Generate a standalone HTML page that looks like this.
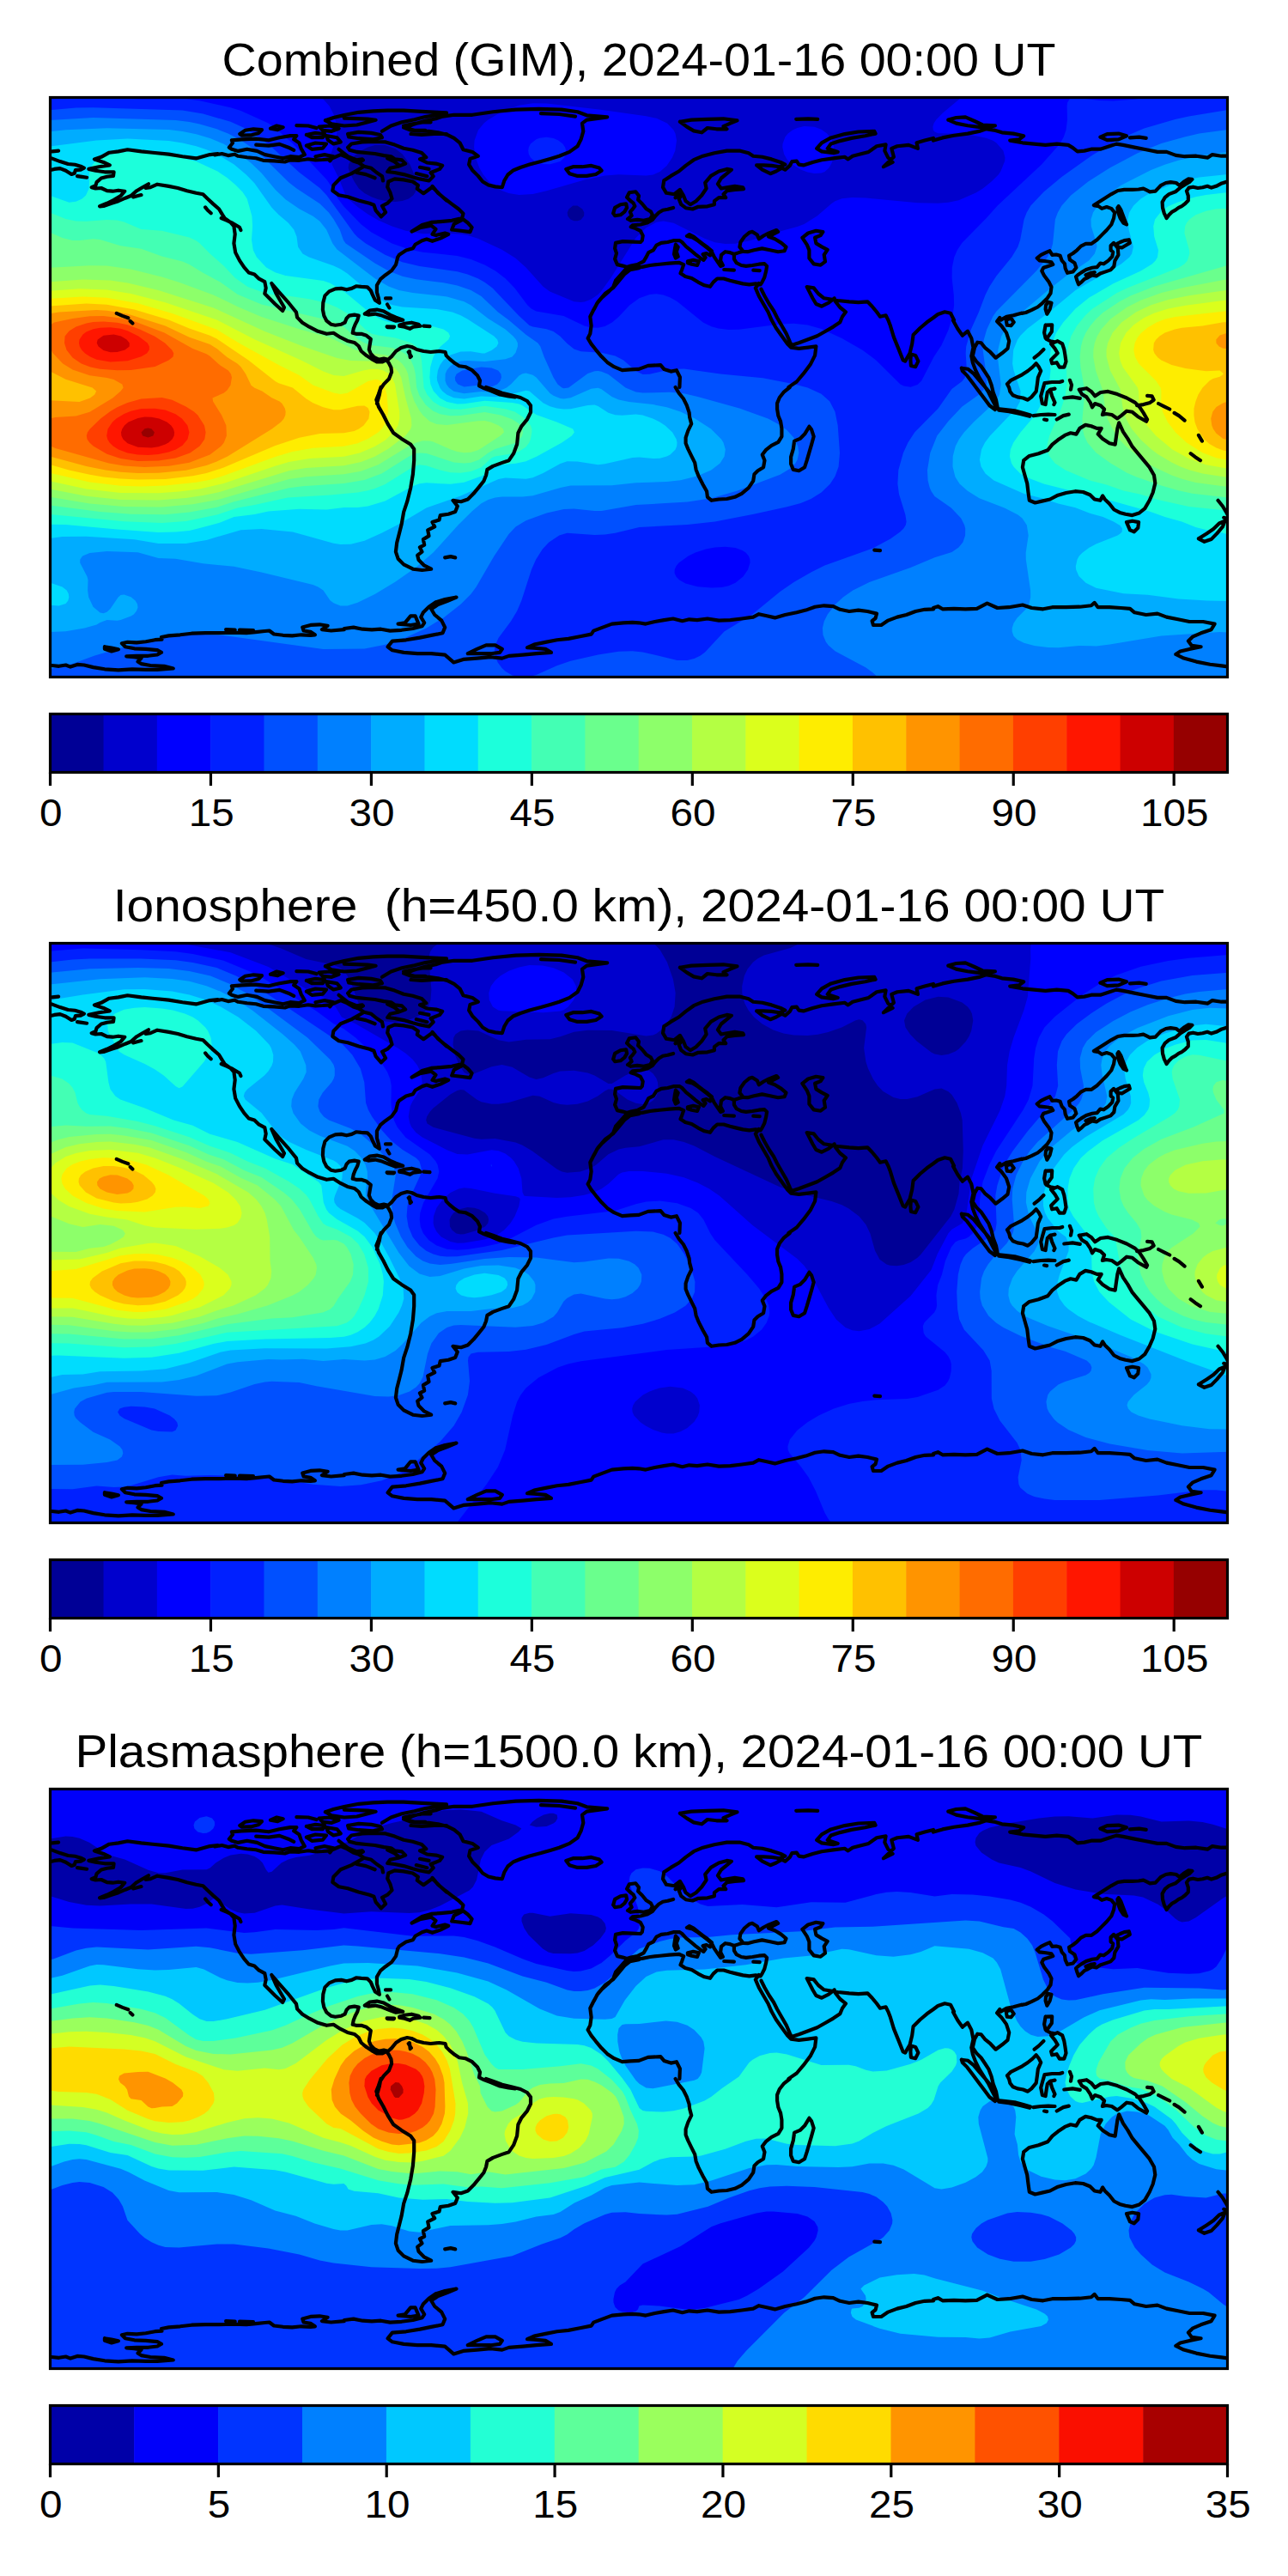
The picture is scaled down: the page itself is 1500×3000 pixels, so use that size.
<!DOCTYPE html>
<html><head><meta charset="utf-8"><title>GIM</title>
<style>html,body{margin:0;padding:0;background:#fff}svg{display:block}text{font-family:"Liberation Sans",sans-serif;fill:#000}</style></head>
<body>
<svg width="1500" height="3000" viewBox="0 0 1500 3000">
<defs><clipPath id="mc"><rect x="58.5" y="0" width="1371.0" height="675.0"/></clipPath>
<g id="coast" fill="none" stroke="#000" stroke-width="4.17" stroke-linejoin="round" stroke-linecap="round"><path d="M60.7,62.9 68.1,62.1M60.1,70.9 70.0,74.6 79.3,77.5 87.3,78.3 94.0,80.2 97.9,82.1 94.0,84.2 87.8,84.7 86.8,88.2 83.3,89.5 76.6,85.2 70.0,82.6 63.3,83.4 60.1,84.2M90.0,91.6 95.3,92.4 101.1,93.2M253.7,65.5 244.4,66.6 228.4,70.9 212.5,68.7 196.5,66.1 177.8,64.2 164.5,62.9 148.5,60.8 137.9,62.9 127.2,64.2 117.9,69.3 109.9,71.9 120.6,75.4 127.8,78.9 115.3,80.7 103.3,83.4 111.3,85.2 121.9,86.8 132.6,86.8 132.0,91.4 124.6,92.2 117.9,94.0 112.6,98.6 111.3,102.8 106.7,104.7 111.3,106.0 117.9,105.5 124.6,108.7 131.2,109.2 137.9,108.2 145.3,109.2 140.6,114.5 132.6,119.3 124.6,123.3 116.1,126.8 120.6,126.5 129.9,123.3 137.9,120.7 145.9,117.2 152.5,114.5 159.2,108.7 165.9,104.7 173.0,100.7 169.8,105.5 175.2,104.7 183.2,101.2 196.5,103.4 207.1,105.5 217.8,108.7 228.4,111.3 236.4,112.7 241.8,118.0 248.4,124.1 255.1,130.0 259.1,136.6 261.7,140.6 268.4,145.4 272.4,150.0 273.7,159.3 272.4,169.9 274.2,180.6 279.0,189.9 284.4,197.9 289.7,204.0 296.3,205.9 301.7,211.2 308.3,214.7 309.7,221.9 308.3,228.5 320.3,240.5 329.1,248.5 331.0,244.5 321.6,228.5 316.3,216.5 324.3,225.9 335.0,237.8 340.0,244.0M155.2,115.9 160.5,114.5 164.5,113.5M239.1,127.9 241.8,131.3 245.7,134.8M257.7,140.6 264.4,143.3 271.0,146.5 279.0,151.3 280.4,154.5M135.8,251.4 142.7,254.4 149.3,256.8M151.7,260.5 154.4,263.1M250.0,67.0 258.4,65.5 265.7,67.6 273.1,66.2 277.3,68.3 287.7,69.7 298.2,70.8 306.6,73.3 319.2,73.9 331.8,75.0 338.0,72.9 348.5,73.3 359.0,71.8 367.4,72.9 375.8,72.5 384.2,71.8 389.4,69.7 396.7,66.6 404.1,69.7 411.4,73.9 417.7,76.0 422.9,72.9M279.3,42.5 285.6,38.3 295.1,36.8 304.9,37.7 301.4,41.4 291.9,43.9 281.4,44.2 279.3,42.5M315.0,36.2 322.3,33.0 329.7,34.7 323.4,37.7 315.0,36.2M269.9,49.8 281.4,48.8 298.2,48.1 312.9,49.8 325.5,46.7 338.0,44.6 345.4,44.6 342.2,48.8 348.5,53.0 350.6,59.2 354.8,66.6 348.5,69.7 338.0,68.7 329.7,70.8 319.2,68.7 308.7,66.6 299.3,62.4 287.7,60.3 277.3,62.4 269.9,60.3 266.8,58.2 271.0,53.0 269.9,49.8M298.2,55.1 312.9,56.1 325.5,54.4 335.9,58.2 342.2,61.3M345.4,32.6 359.0,33.0 368.4,35.6M356.9,43.5 367.4,41.4 377.9,42.5 375.8,46.7 363.2,46.7 356.9,43.5M371.6,34.1 384.2,33.0 394.6,36.2 386.3,39.3 375.8,38.3 371.6,34.1M356.9,56.1 367.4,53.0 380.0,54.0 375.8,59.2 363.2,60.3 356.9,56.1M380.0,44.6 392.5,46.7 396.7,51.9 388.4,54.0 382.1,49.8 380.0,44.6M367.4,68.7 377.9,66.6 388.4,68.7 384.2,73.9M394.6,60.3 405.1,68.7 415.6,72.9 421.9,71.8M378.9,26.8 388.4,23.6 400.9,20.5 417.7,17.3 434.5,15.9 451.2,15.2 470.1,15.2 491.1,16.3 509.9,17.3 520.0,17.9M378.9,26.8 386.3,30.9 400.9,33.0 415.6,32.0 428.2,28.8 437.6,26.3 428.2,25.1 415.6,24.7 400.9,24.2M445.0,39.3 455.4,33.0 468.0,28.8 482.7,25.7 495.3,22.6 507.8,20.5 520.0,19.4M470.1,33.0 480.6,30.9 493.2,28.8 501.6,28.8M470.1,35.1 482.7,38.3 495.3,38.3M478.5,42.5 491.1,43.5 505.7,42.5 520.0,42.5M405.1,42.5 417.7,40.4 432.4,41.4 442.9,43.5 445.0,46.7 434.5,48.8 417.7,47.7 406.2,46.0 405.1,42.5M405.1,58.2 409.3,54.0 421.9,51.9 436.6,51.5 449.1,51.9 459.6,55.1 470.1,59.2 480.6,61.3 491.1,64.5 496.3,69.7 489.0,71.8 497.4,76.0 507.8,77.1 515.2,79.2 512.0,83.4 501.6,87.5 504.7,91.7 499.5,97.0 489.0,94.9 480.6,92.8 470.1,89.6 459.6,87.5 451.2,86.5 454.4,82.3 463.8,80.2 472.2,77.1 468.0,72.9 459.6,71.8 455.4,68.7 447.0,67.6 436.6,65.5 426.1,64.5 415.6,63.4 407.2,61.3 405.1,58.2M451.2,70.8 459.6,75.0 463.8,78.1M489.0,81.3 499.5,83.4M484.8,88.6 497.4,91.7M424.0,80.2 409.3,88.6 396.7,93.8 388.4,102.2 387.3,108.5 394.6,113.7 405.1,115.8 417.7,120.0 430.3,123.2 435.5,125.3 437.6,131.6 443.9,138.9 449.1,133.7 445.0,126.3 451.2,123.2 456.5,117.9 454.4,110.6 451.2,104.3 452.3,98.0 459.6,94.9 470.1,95.9 480.6,98.0 486.9,102.2 485.8,106.4 493.2,111.7 503.6,104.3 512.0,112.7 520.0,120.0M417.7,76.0 424.0,80.2 432.4,82.3 438.7,87.5 445.0,91.7 446.0,97.0M415.6,87.5 426.1,89.6 436.6,93.8M471.6,35.5 480.9,31.5 494.2,27.5 507.5,24.8 515.5,22.1 528.8,20.3 550.1,20.3 574.1,16.8 600.7,14.1 627.4,13.3 654.0,14.1 672.6,16.8 683.3,20.8 707.2,22.9 683.3,26.1 678.0,30.1 679.3,39.4 676.6,48.8 672.6,56.8 663.3,63.4 651.3,68.2 640.7,71.4 630.0,74.6 616.7,78.1 606.1,81.5 598.1,84.7 591.4,90.0 587.4,96.7 584.8,104.7 576.8,103.9 568.8,102.0 562.1,98.0 556.8,91.4 550.1,84.7 546.1,78.1 547.5,71.4 556.8,68.2 550.1,63.4 539.5,60.8 535.5,52.8 528.8,47.4 520.8,43.4 510.2,40.8 499.5,39.4 488.9,38.9 478.2,38.1 471.6,35.5M630.0,18.7 651.3,19.5 670.0,22.1M503.5,103.4 510.2,111.3 518.2,118.0 526.2,124.1 534.2,130.0 539.5,135.3 538.1,140.6 526.2,143.3 512.8,144.6 502.2,145.4 491.5,148.6 479.6,156.1 488.9,151.8 502.2,149.2 507.5,153.4 503.5,159.3 507.5,160.6 518.2,158.0 522.2,159.3 512.8,164.1 503.5,167.3 496.9,165.1 491.5,166.7 483.6,171.3 480.9,175.8 472.9,177.9 464.9,183.2 463.0,186.4M528.8,147.3 526.2,154.0 536.8,155.3 547.5,156.6 549.6,151.3 544.8,146.0 539.5,142.0 534.2,144.6 528.8,147.3M659.3,83.4 667.3,80.7 678.0,80.7 688.6,79.4 697.9,82.1 700.6,85.2 693.9,89.5 683.3,91.4 672.6,91.4 663.3,88.7 659.3,83.4M744.0,198.7 733.9,200.6 727.2,205.9 720.6,213.9 713.9,221.9 704.6,228.5 696.6,237.8 691.3,247.2 687.3,255.2 688.6,265.8 687.3,275.1 684.6,280.5 688.6,287.1 693.9,293.8 700.6,301.8 707.2,308.4 715.2,313.7 724.6,317.7 733.9,316.9 744.0,316.4M791.9,28.3 805.2,26.1 823.9,25.3 842.5,24.8 858.5,26.9 850.5,30.1 842.5,33.6 846.5,36.8 834.5,36.8 823.9,35.5 817.2,40.8 807.9,38.9 799.9,34.1 791.9,28.3M927.2,25.3 941.1,24.8 952.2,25.3M951.2,59.4 957.0,52.8 967.7,46.9 983.7,42.6 999.7,40.0 1018.3,39.4 1019.6,42.1 1007.6,44.8 991.7,47.4 978.3,50.6 967.7,54.1 963.7,59.4 975.7,63.4 970.4,64.7 957.0,62.9 951.2,59.4M773.3,96.7 781.3,91.4 790.6,86.0 798.6,79.4 807.9,72.7 818.6,68.2 831.9,64.7 846.5,62.1 861.2,62.1 871.8,64.7 877.2,68.2 887.8,69.3 898.5,71.9 909.1,75.4 914.4,78.1 907.8,80.7 898.5,79.4 889.1,78.9 881.1,78.9 887.8,84.2 897.1,88.7 903.8,86.0 910.4,82.1 914.4,84.2 919.8,79.4 922.4,74.6 927.8,74.1 930.4,78.1 935.7,78.9 946.4,75.4 957.0,72.7 970.4,70.9 983.7,69.3 987.7,71.9 993.0,68.2 1003.6,65.5 1011.6,63.4 1021.0,56.8 1031.6,54.9 1030.3,62.1 1034.3,70.1 1039.6,75.4 1028.9,80.7 1040.9,69.3 1038.3,59.4 1044.9,56.8 1058.2,55.4 1068.9,59.4 1067.6,52.8 1076.9,50.1 1087.0,47.4M773.3,96.7 772.0,104.7 776.0,111.3 785.3,112.7 791.9,107.4 795.9,114.0 798.6,120.7 803.9,124.7 810.6,120.7 817.2,114.0 822.6,106.0 821.2,99.4 827.9,91.4 837.2,86.0 846.5,83.4 851.9,84.2 846.5,88.7 839.9,94.0 835.9,100.7 839.9,106.0 846.5,104.7 855.8,103.4 865.2,104.7 866.0,106.6 855.8,107.4 846.5,108.7 842.5,112.7 845.2,116.7 837.2,116.7 831.9,120.7 831.9,124.7 823.9,126.8 813.2,127.3 806.6,130.0 798.6,128.7 793.3,124.7 790.6,118.0 794.1,114.0M786.6,116.7 790.6,112.7M934.4,163.3 941.1,158.0 950.4,155.3 958.4,156.6 955.7,160.6 949.1,163.3 950.4,169.9 957.0,173.9 963.7,177.4 959.7,183.2 961.0,191.2 955.7,195.2 947.7,193.9 942.4,187.2 942.4,177.9 939.7,171.3 934.4,163.3M883.8,216.5 879.8,221.9 883.8,231.2 889.1,240.5 894.5,249.8 898.5,259.1 903.8,268.5 910.4,277.8 917.1,287.1 921.1,291.1 930.4,292.4 941.1,291.1 950.4,289.8 949.1,300.4 943.7,311.1 935.7,321.7 927.8,331.0 918.4,337.4M886.5,223.2 890.5,231.2 895.8,240.5 901.1,248.5 905.1,256.5 910.4,265.8 915.8,275.1 919.8,284.4 921.9,288.4 930.4,285.8 941.1,281.8 951.7,277.8 961.0,272.5 970.4,267.1 978.3,261.8 981.0,255.2 985.0,249.8 978.3,244.5 973.0,237.8 971.7,233.8 965.0,239.2 957.0,243.2 950.4,240.5 946.4,233.8 942.4,225.9 939.7,220.5 947.7,221.9 953.0,228.5 959.7,233.8 969.0,235.2 975.7,236.5 989.0,237.8 999.7,238.6 1010.3,237.8 1015.6,243.2 1021.0,249.8 1025.0,255.2 1031.6,253.8 1034.3,259.1 1036.9,265.8 1040.9,279.1 1046.3,292.4 1051.6,305.8 1054.2,307.1 1059.6,297.8 1062.2,287.1 1063.6,276.5 1071.6,268.5 1079.5,261.8 1087.0,256.5M1060.9,299.1 1066.2,300.4 1069.4,307.1 1066.2,313.7 1060.9,312.4 1060.4,305.8 1060.9,299.1M744.0,316.4 754.7,312.4 769.3,311.6 773.3,316.4 781.3,319.1 787.9,317.7 791.9,325.7 791.4,337.4M1104.3,26.1 1113.6,23.5 1124.3,22.9 1134.9,27.5 1144.3,32.0 1158.9,32.8 1149.6,35.5 1137.6,34.1 1126.9,32.8 1113.6,30.1 1104.3,26.1M1087.0,50.1 1097.7,46.9 1111.0,44.2 1126.9,42.1 1140.3,39.4 1148.2,36.8 1157.6,38.1 1166.9,40.8 1180.2,42.1 1192.2,44.8 1186.9,48.8 1176.2,50.1 1190.9,52.8 1204.2,54.1 1217.5,55.4 1230.8,54.1 1244.1,55.4 1249.4,58.6 1254.8,62.9 1262.8,62.1 1270.8,60.2 1281.4,60.2 1292.1,56.8 1300.0,54.1 1308.0,55.4 1321.3,58.1 1334.7,60.8 1348.0,63.4 1358.6,63.4 1369.3,67.4 1379.9,68.7 1393.2,68.2 1406.6,70.1 1411.9,66.6 1422.5,68.2 1430.0,68.2M1281.4,46.1 1289.4,42.6 1302.7,42.1 1312.0,44.8 1302.7,48.8 1289.4,49.6 1281.4,46.1M1316.0,46.9 1326.7,46.1 1334.7,47.4M1189.5,251.2 1180.2,253.8 1172.2,255.2 1165.6,259.1 1164.2,257.3M1111.0,259.1 1107.0,251.2 1100.3,249.8 1092.3,252.5 1087.0,256.5M1171.7,259.1 1177.5,257.3 1180.7,261.8 1177.5,265.8 1172.8,265.3 1171.7,259.1M443.6,337.5 440.9,345.5 438.3,352.1 440.9,360.1 446.3,369.5 451.6,380.1 458.3,390.8 467.6,397.4 478.2,404.1 482.2,409.4 482.2,422.7 480.9,438.7 478.2,454.7 474.2,470.7 470.2,482.6 467.6,497.3 464.9,507.9 462.2,518.6 460.9,529.2 463.6,537.2 470.2,543.9 480.9,549.2 491.5,550.5 502.2,549.2 494.2,545.2 487.5,538.6 486.2,533.2 491.5,529.2 488.9,523.9 494.2,521.2 492.9,514.6 499.5,510.6 498.2,503.9 506.2,499.9 503.5,494.6 511.5,492.0 512.8,486.6 522.2,485.3 530.2,482.6 532.8,476.0 527.5,469.3 536.8,470.7 544.8,468.0 551.5,461.3 558.1,453.3 563.4,446.7 566.1,440.0 567.4,433.4 574.1,429.4 584.8,425.4 592.7,422.7 598.1,414.7 602.1,404.1 603.4,390.8 607.4,382.8 614.0,374.8 618.0,366.8 618.0,358.8 614.0,353.5 606.1,349.5 595.4,346.8 584.8,344.2 574.1,340.2 566.1,337.5M518.2,535.9 524.8,534.6 530.2,535.9M401.0,618.5 411.7,617.1 422.3,619.2 433.0,619.8 443.6,619.2 454.3,621.1 467.6,620.3 480.9,618.5 491.5,615.8 494.2,611.8 490.2,605.1 492.9,599.8 499.5,593.2 507.5,587.8 518.2,584.6 531.5,582.0 520.8,586.5 510.2,590.5 502.2,595.8 506.2,602.5 514.2,609.1 518.2,617.1 515.5,623.8 502.2,626.4 488.9,629.1 472.9,631.8 456.9,633.1 451.6,639.8 456.9,643.8 470.2,646.4 486.2,647.7 502.2,647.7 518.2,649.1 528.3,657.9 539.5,654.4 555.5,653.1 571.4,651.7 584.8,653.1 592.7,650.4 608.7,649.1 624.7,647.7 642.0,646.4 635.3,642.4 622.0,641.1 614.0,640.6 622.0,637.1 635.3,634.4 648.7,631.8 662.0,630.4 675.3,627.8 688.6,625.1 691.3,621.1 701.9,617.1 712.6,613.1 725.9,611.8 736.5,611.3 744.0,611.8M544.8,647.7 555.5,642.4 566.1,637.9 576.8,637.9 584.8,642.4 582.1,646.4 571.4,647.7 558.1,647.7 544.8,647.7M463.6,613.1 471.6,611.8 478.2,603.8 483.6,603.8 487.5,613.1 478.2,614.5 463.6,613.1M786.6,337.5 790.6,344.2 795.9,350.8 799.9,358.8 802.6,366.8 803.1,372.1 805.2,380.1 801.3,388.1 798.6,396.1 798.6,402.7 801.3,409.4 805.2,417.4 809.2,425.4 810.6,433.4 813.8,441.4 818.6,450.7 823.1,458.7 823.9,465.3 828.7,469.3 837.2,468.0 846.5,467.5 855.8,465.3 863.8,461.3 871.8,454.7 877.2,446.7 878.5,438.7 882.5,434.7 889.1,430.7 890.5,422.7 887.8,416.1 891.8,410.7 898.5,405.4 906.4,401.4 910.4,394.8 910.4,385.4 909.1,377.4 906.4,370.8 905.1,362.8 905.1,356.1 907.8,349.5 913.1,342.8 919.8,337.5M942.4,383.3 945.1,386.8 947.7,394.8 945.1,404.1 942.4,413.4 939.7,422.7 937.1,430.7 930.4,434.7 923.8,433.4 921.1,426.7 921.1,418.7 923.8,409.4 925.1,400.1 931.7,397.4 937.1,392.1 942.4,383.3M1018.3,527.1 1025.0,527.6M744.0,611.8 752.0,613.1 762.6,610.5 773.3,608.6 783.9,607.0 794.6,609.7 802.6,607.8 811.9,608.6 823.9,607.0 837.2,609.1 850.5,608.6 863.8,607.0 877.2,605.1 883.8,601.7 893.1,603.8 902.5,605.9 914.4,602.5 927.8,599.8 938.4,597.1 949.1,593.2 959.7,591.8 970.4,592.6 978.3,596.3 989.0,598.5 999.7,597.1 1010.3,598.5 1021.0,601.1 1019.6,606.5 1015.6,609.7 1017.0,614.5 1026.3,614.5 1034.3,609.1 1044.9,605.1 1055.6,602.5 1066.2,598.5 1076.9,596.3 1087.0,595.8M1192.2,422.7 1198.8,417.4 1209.5,414.7 1220.2,410.7 1225.5,404.1 1232.1,398.8 1240.1,393.4 1246.8,390.8 1253.4,392.1 1257.4,385.4 1264.1,381.4 1270.8,382.8 1277.4,385.4 1282.7,385.4 1278.7,392.1 1284.1,397.4 1292.1,402.7 1298.7,404.1 1300.0,394.8 1301.4,385.4 1303.2,378.8 1308.0,389.4 1313.4,397.4 1318.7,406.7 1325.3,414.7 1332.0,422.7 1338.7,430.7 1344.0,440.0 1345.3,449.3 1342.7,460.0 1338.7,469.3 1333.3,478.6 1326.7,484.0 1318.7,486.6 1310.7,485.3 1304.0,483.4 1297.4,480.0 1292.1,473.3 1286.7,468.0 1284.1,464.0 1281.4,469.3 1274.7,468.0 1269.4,462.7 1261.4,459.5 1252.1,458.7 1241.5,460.5 1232.1,463.2 1222.8,468.0 1213.5,470.1 1205.5,472.0 1198.8,469.3 1197.5,460.0 1196.2,449.3 1193.5,440.0 1190.9,430.7 1192.2,422.7M1312.0,494.6 1318.7,493.3 1326.1,494.6 1325.3,501.3 1320.8,505.8 1316.0,503.9 1312.0,494.6M1395.9,513.8 1405.2,507.9 1413.2,502.6 1419.9,496.0 1426.5,493.3 1423.9,499.9 1417.2,507.9 1410.6,514.6 1402.6,517.3 1395.9,513.8M1418.5,469.3 1423.9,476.0 1427.9,482.6 1430.0,486.6M1425.2,489.3 1430.0,490.6M1395.9,393.4 1399.9,400.1M1386.6,414.7 1391.9,418.7 1398.0,422.7M1087.0,594.5 1092.3,592.6 1097.7,595.8 1111.0,595.3 1124.3,595.8 1137.6,595.3 1149.6,589.2 1161.6,594.5 1174.9,593.7 1190.9,591.0 1201.5,594.5 1214.8,595.8 1225.5,593.7 1241.5,593.7 1257.4,593.2 1270.8,591.8 1274.7,588.4 1278.7,593.7 1292.1,593.7 1305.4,594.5 1316.0,595.3 1321.3,599.8 1334.7,602.5 1348.0,601.1 1358.6,605.1 1371.9,607.8 1385.3,610.5 1401.2,610.5 1414.6,613.1 1410.6,619.8 1398.6,623.8 1389.3,627.8 1383.9,633.1 1387.9,638.4 1398.6,639.8 1385.3,642.4 1374.6,645.1 1369.3,648.5 1378.6,653.1 1393.2,657.1 1409.2,660.3 1422.5,661.9 1430.0,662.9M60.1,661.5 68.7,662.3 76.6,661.0 82.0,663.1 90.0,660.4 97.9,661.0 108.6,663.6 121.9,665.8 137.9,666.8 153.9,665.8 169.8,666.3 183.2,666.3 201.8,665.0 191.2,662.3 175.2,661.5 164.5,659.6 160.5,657.0 164.5,653.0 156.5,651.6 147.2,650.8 159.2,650.3 172.5,650.3 183.2,649.0 188.0,646.3 183.2,643.6 169.8,642.3 156.5,641.8 145.9,639.7 141.9,635.7 148.5,634.3 159.2,634.9 169.8,633.8 180.5,631.7 188.5,631.1 188.0,628.5 196.5,626.9 209.8,625.8 223.1,624.2 239.1,623.7 255.1,623.7 271.0,623.1 287.0,623.7 297.7,622.6 308.3,621.5 313.7,621.0 319.0,625.0 329.6,626.3 340.3,626.9 350.9,625.8 361.6,626.3 366.9,625.8 361.6,622.3 353.6,621.0 352.3,617.0 361.6,614.4 372.2,613.8 381.6,615.2 374.9,619.7 385.6,621.0 401.0,619.7M121.9,639.7 129.9,641.0 137.9,642.8 129.9,645.0 121.9,642.3 121.9,639.7M263.1,619.7 273.7,620.2M279.0,620.2 295.0,620.7M1164.3,256.5 1161.1,260.8 1166.5,266.3 1172.0,273.9 1175.2,283.7 1173.5,292.4 1167.0,297.8 1159.6,303.2 1153.5,296.7 1147.0,291.3 1142.6,285.8 1138.3,285.2 1135.0,291.3 1132.8,301.1 1137.2,307.6 1142.6,313.0 1147.0,319.5 1151.3,326.1 1154.6,334.8 1156.7,343.5 1160.0,352.2 1161.7,360.8M1110.0,259.8 1115.4,269.5 1120.9,277.2 1127.0,272.2 1131.3,280.4 1133.5,291.3 1131.3,301.1 1132.8,308.7 1136.1,317.4 1140.4,326.1 1145.9,334.8 1151.3,343.5 1155.7,352.2 1160.4,361.3M1119.8,315.2 1127.4,316.3 1133.9,321.7 1140.4,329.3 1147.0,336.9 1153.5,344.5 1158.9,352.2 1161.1,360.8 1158.9,363.5 1152.4,358.7 1145.9,350.0 1139.3,341.3 1132.8,332.6 1126.3,323.9 1120.9,318.5 1119.8,315.2M1161.7,362.6 1170.9,363.5 1181.7,364.8 1192.6,367.8 1200.2,370.0M1163.3,364.3 1175.2,365.8 1188.3,368.5 1199.1,371.3M1203.5,370.6 1212.2,369.5 1220.9,369.1 1228.5,369.5M1216.1,375.0 1219.1,375.6M1230.7,375.0 1238.3,370.6 1244.8,369.1M1173.0,333.7 1177.4,329.3 1183.9,326.1 1190.4,322.8 1197.0,318.5 1202.4,314.1 1206.7,309.8 1210.0,314.1 1212.2,318.5 1208.9,326.1 1207.8,334.8 1206.7,342.4 1201.3,348.9 1197.0,352.2 1191.5,350.0 1185.0,348.9 1179.6,346.7 1176.3,342.4 1175.2,338.0 1173.0,333.7M1204.6,303.2 1210.0,298.9 1215.4,293.5M1216.5,332.6 1225.2,331.5 1233.9,331.5 1237.2,330.4M1216.5,332.6 1214.3,340.2 1212.2,347.8 1213.9,356.5 1217.6,357.6 1218.7,350.0 1219.8,343.5 1223.0,340.2 1228.5,339.1M1223.0,340.2 1225.2,347.8 1228.5,355.4 1227.4,357.6M1217.6,265.2 1225.2,264.8 1224.8,272.8 1220.9,278.2 1218.7,281.5 1223.0,283.7 1228.5,284.8M1217.6,265.2 1216.1,273.9 1217.6,280.4M1224.1,286.9 1231.7,283.7 1237.2,286.9 1239.3,293.5 1240.4,300.0 1241.5,307.6 1239.3,314.1 1233.9,314.1 1230.7,308.7 1225.2,309.8 1224.1,305.4 1228.5,301.1 1231.7,297.8 1228.5,292.4 1224.1,286.9M1245.9,329.3 1248.0,334.8 1247.0,340.2M1239.3,350.0 1249.1,348.9 1257.8,350.4M1256.7,340.2 1265.4,338.7 1270.9,342.4 1275.2,347.8 1281.7,343.5 1290.4,342.4 1301.3,345.6 1312.2,350.0 1322.0,355.4 1327.4,360.8 1331.7,367.4 1336.1,375.0 1335.0,377.2 1325.2,371.7 1318.7,366.3 1312.2,365.2 1305.7,370.6 1301.3,373.9 1294.8,369.5 1288.3,368.5 1283.9,369.5 1286.1,363.0 1281.7,358.7 1275.2,356.5 1272.0,360.8 1269.8,355.4 1265.4,348.9 1260.0,345.6 1256.7,340.2M1324.1,358.7 1331.7,357.6 1339.3,355.4 1343.7,352.2 1341.5,347.8 1336.1,347.4M1349.1,356.5 1355.7,359.8 1362.2,363.0M1367.6,367.4 1373.0,370.6 1379.6,376.1M463.1,186.5 461.1,194.6 456.1,201.6 449.0,206.7 443.0,211.7 438.9,218.8 438.9,226.9 440.9,233.9 441.9,239.4 436.9,236.0 433.9,229.9 431.8,224.9 427.8,220.8 420.7,220.4 414.7,219.8 409.6,222.4 403.6,223.8 397.5,222.4 390.5,222.8 383.4,225.9 378.4,230.9 376.3,239.0 375.9,247.1 377.3,254.1 380.4,260.2 385.4,264.2 390.5,265.2 397.5,264.2 401.6,262.2 403.6,257.2 406.6,254.1 412.7,253.1 417.7,254.1 416.3,259.2 413.7,264.2 411.7,269.3 410.7,274.3 414.7,275.3 420.7,275.3 426.8,277.3 431.8,281.4 430.8,287.4 429.8,293.5 431.8,298.5 435.9,302.6 440.9,305.2 447.0,304.0 452.0,305.2 456.1,301.6 461.1,295.5 467.2,291.5 474.2,289.5 479.3,290.5 482.3,291.9 485.3,293.5 493.4,295.5 501.5,296.5 511.6,295.5 518.6,296.5 519.7,300.6 523.7,304.6 529.8,309.6 534.8,312.7 541.9,313.7 549.9,317.7 556.0,323.8 559.0,329.8 558.0,335.9 564.1,338.9 572.1,341.9 582.2,346.0 592.3,348.0 600.0,349.0M340.0,244.0 345.0,250.1 346.1,256.1 352.1,262.2 360.2,267.2 370.3,272.3 380.4,275.3 388.4,274.3 396.5,279.4 404.6,283.4 412.7,285.4 417.7,289.5 420.7,295.5 426.8,300.6 432.9,304.6 438.9,308.0 445.0,308.0 450.0,305.6 453.0,309.6 455.5,314.7 456.1,319.7 453.0,327.8 447.0,333.9 443.0,339.9 441.9,346.0 438.9,356.5M424.8,252.1 430.8,248.1 438.9,247.1 447.0,249.1 454.1,253.1 461.1,256.1 469.2,259.2 461.1,260.2 453.0,257.2 445.0,254.1 436.9,252.1 428.8,253.1 424.8,252.1M450.6,266.8 459.1,267.2M451.4,267.6 458.3,267.9M465.2,265.2 471.2,263.2 479.3,262.2 487.4,264.2 489.4,266.2 481.3,267.2 477.3,269.3 471.2,267.2 465.2,266.2 465.2,265.2M493.4,266.2 500.5,266.6M449.0,233.9 455.1,233.9M451.0,241.0 453.4,245.0M476.9,295.5 477.7,302.6M475.7,296.5 478.9,301.6M1430.0,97.7 1422.9,99.9 1416.4,103.3 1410.8,105.1 1406.1,103.3 1400.6,104.8 1395.0,105.5 1389.4,104.2 1384.7,105.1 1381.9,108.9 1383.8,114.5 1383.8,120.0 1380.1,123.8 1376.3,126.6 1372.6,128.4 1368.9,131.2 1365.2,133.1 1361.4,136.8 1358.6,140.5 1355.8,134.9 1354.0,128.4 1353.6,121.9 1356.8,116.3 1361.4,112.6 1368.9,109.8 1374.5,105.1 1380.1,101.4 1385.7,98.1 1388.4,95.4 1383.8,94.9 1378.2,98.6 1373.5,102.3 1369.8,99.5 1363.3,98.6 1357.7,99.5 1352.1,102.3 1348.4,106.1 1345.6,109.2 1339.1,109.8 1335.3,107.9 1331.6,106.1 1326.0,107.0 1318.6,107.4 1309.3,107.4 1301.8,108.5 1294.3,112.6 1286.9,117.2 1279.4,121.9 1273.9,125.6 1279.4,126.6 1283.2,129.4 1288.8,127.5 1294.3,129.4 1298.1,134.0 1297.1,140.5 1294.3,148.0 1288.8,154.5 1283.2,160.1 1277.6,165.7 1271.1,170.4 1264.5,170.4 1258.9,173.1 1254.3,177.8 1249.6,181.5 1245.0,184.3 1245.9,189.0 1251.5,192.7 1253.4,198.3 1249.6,203.0 1243.1,204.3 1240.7,199.2 1239.9,193.6 1236.6,189.9 1234.7,184.3 1230.1,183.0 1225.4,183.4 1222.6,178.7 1218.0,180.6 1212.4,183.4 1207.7,187.1 1210.5,189.9 1218.0,190.8 1224.5,191.8 1226.3,194.6 1220.7,196.4 1215.2,198.3 1213.3,202.0 1216.1,207.6 1221.7,215.1 1224.5,220.7 1223.5,228.1 1219.8,233.7 1214.2,239.3 1208.6,244.0 1201.2,247.7 1194.7,250.5 1190.0,251.4M1302.7,126.6 1305.5,131.2 1308.3,138.7 1311.1,146.1 1312.0,148.0 1308.3,146.1 1304.6,140.5 1301.8,133.1 1301.4,128.4 1302.7,126.6M1304.6,168.5 1309.3,166.6 1314.8,165.7 1315.8,169.4 1311.1,172.2 1306.5,175.0 1301.8,174.1 1300.9,170.4 1304.6,168.5M1301.8,175.6 1302.4,183.4 1298.4,190.1 1297.3,196.8 1293.4,200.9 1286.9,203.1 1281.3,205.0 1276.8,208.0 1272.0,206.9 1267.3,209.5 1262.7,211.7 1258.9,215.4 1256.1,217.7 1254.5,213.6 1253.0,208.7 1255.2,206.7 1259.3,203.9 1264.9,200.5 1272.0,198.3 1277.6,197.6 1281.3,193.1 1285.4,193.8 1290.6,190.1 1295.3,185.3 1296.2,180.0 1293.6,177.8 1293.6,172.6 1297.1,169.4 1301.8,175.6M1264.5,206.7 1270.1,204.3 1274.8,203.5M1220.7,238.4 1224.5,239.3 1222.6,246.7 1219.4,252.3 1217.6,246.7 1218.0,242.1 1220.7,238.4M714.2,134.9 716.1,128.4 722.6,124.7 729.1,123.8 730.1,128.4 727.3,133.1 722.6,136.8 716.1,137.7 714.2,134.9M730.1,116.3 732.9,110.7 740.3,109.8 744.0,114.5 743.1,119.1 747.8,123.8 752.4,129.4 758.0,133.1 759.9,136.8 757.1,141.5 749.6,143.3 742.2,142.4 734.7,143.3 731.0,141.5 735.7,137.7 733.8,133.1 736.6,130.3 739.4,126.6 737.5,122.8 733.8,120.0 730.1,116.3M784.1,128.4 777.6,130.3 772.0,131.2 767.3,134.0 763.6,137.7 759.9,142.4 753.4,146.1 745.9,148.0 736.6,148.9 734.7,150.8 740.3,152.6 745.9,155.4 748.7,161.0 747.8,166.6 745.9,168.5 736.6,168.1 725.4,167.6 717.0,169.4 716.1,175.9 718.0,181.5 716.1,188.1 718.9,194.6 725.4,196.1 730.1,197.4 734.7,196.1 742.2,194.6 749.6,190.8 752.4,186.2 755.2,180.6 760.8,177.8 764.5,172.2 770.1,169.4 777.6,168.5 785.0,166.6 791.6,166.6 794.3,168.5 799.0,173.7 804.6,178.2 810.2,182.8 815.2,186.7 819.5,189.4 821.6,186.4 818.6,182.6 822.7,181.5 827.1,183.8 829.0,178.9 824.2,174.8 818.6,170.7 813.0,166.3 807.8,162.0 802.9,159.5 799.9,161.4 806.5,162.9 813.0,167.0 818.6,171.3 824.2,175.6 828.8,179.7 831.6,185.3 835.3,190.8 839.1,196.4 841.9,195.5 839.1,189.9 840.0,183.4 844.7,179.7 850.2,180.6 854.9,182.5 854.9,188.1 857.7,192.7 863.3,195.5 868.9,196.4 876.3,195.5 883.8,194.2 890.3,193.6 893.1,196.4 892.2,202.0 890.3,209.5 887.5,215.1 885.7,217.9 880.1,216.9 872.6,217.9 865.2,216.9 857.7,215.1 850.2,213.2 842.8,211.0 835.3,211.0 830.7,215.1 827.0,220.3 820.4,218.8 813.0,215.1 805.5,210.4 798.1,208.5 792.5,204.8 794.3,200.2 796.2,194.6 790.6,192.3 779.4,193.1 768.3,194.2 757.1,195.5 747.8,197.4 738.4,198.3 730.1,198.3 723.5,205.8 717.0,213.2 714.2,220.7 707.7,227.2 701.2,232.8 695.6,239.3 691.9,246.6M854.9,182.5 860.5,180.6 865.5,179.3 861.4,174.1 862.4,168.5 867.0,162.0 872.6,157.3 876.3,156.4 881.9,160.1 883.8,164.8 889.4,161.0 895.0,158.2 904.3,154.5 906.1,156.4 898.7,160.1 895.0,162.0 902.4,164.8 909.9,169.4 915.5,174.1 913.6,178.7 906.1,179.7 896.8,177.8 887.5,175.9 878.2,177.8 870.7,179.7 865.5,179.3M786.9,171.3 789.7,174.1 787.8,179.7 789.7,185.3 786.9,187.1 785.0,182.5 786.0,175.9 786.9,171.3M800.9,190.8 807.4,189.4 813.9,190.8 812.0,195.5 805.5,194.2 800.9,192.7 800.9,190.8M843.2,200.5 854.9,201.1M877.3,201.1 884.7,201.7"/></g>
</defs>
<rect width="1500" height="3000" fill="#fff"/>
<g transform="translate(0,113.5)">
<g clip-path="url(#mc)">
<rect x="58.5" y="0" width="1371.0" height="675.0" fill="#000096"/>
<path fill="#0000cd" fill-rule="evenodd" d="M1432.5,-2 1432.5,678 56.5,678 56.5,-2ZM428.3,58 420.5,62 412.5,68.3 408.5,73 406.1,78 405.6,82 406.7,86 412.5,97.8 417.9,106 424.5,111.6 432.5,115.8 440.5,118.7 452.5,121.2 460.5,121.5 468.5,120.6 475.9,118 481.2,114 483.9,110 485.1,106 485.4,102 484.1,94 477.5,78 468.7,66 460.5,59.7 448.5,55.4 436.5,55.6ZM667.3,126 662.4,130 660.7,134 661.2,138 664.3,142 668.5,143.7 672.5,143.8 676.5,142.5 680.1,138 680.3,134 678.3,130 672.5,126Z"/>
<path fill="#0000ff" fill-rule="evenodd" d="M367.4,-2 372.5,-0.2 376.5,2 383.6,10 388.5,19.6 391.5,30 392.4,38 391.9,46 385.4,66 386.6,78 394.5,94 402.5,114 405.4,118 416.5,127.6 428.5,136.1 440.5,143 456.5,150 472.5,155.2 492.5,158.7 524.5,158.5 536.5,159.2 544.5,160.5 556.5,164.2 584.5,177.2 600.5,187.3 612.5,197.9 632.5,220.2 640.3,226 668.5,237.8 676.5,238.6 680.7,238 688.5,235.1 695.9,230 699.9,226 711.5,210 740.5,163.5 752.5,151.8 764.5,145.2 772.5,143.9 784.5,146.3 820.5,164.3 832.5,168.8 844.5,170.6 856.5,170.2 872.5,167.1 904.5,156.9 928.5,150.5 936.5,147.4 951.7,138 968.5,123.5 972.5,120.8 980.5,117.7 992.5,116.5 1008.5,117 1068.5,122.8 1092.5,123.3 1104.5,122.2 1116.5,119.7 1136.5,111 1144.7,106 1154.6,98 1162.7,90 1165.4,86 1170.2,74 1170.5,70 1168.4,62 1160.5,53 1156.5,50.3 1148.5,47.2 1124.5,42.3 1092.5,41.7 1088.5,40 1086.8,38 1086.4,34 1087.6,30 1090.2,26 1098,18 1122,-2 1432.5,-2 1432.5,678 56.5,678 56.5,-2ZM604.5,9.2 620.5,6.8 636.5,7.1 697.5,14 752.5,21.7 764.5,24.3 776.9,30 784.5,38 786.5,42 788,50 786.3,62 782.9,70 776.5,79.5 768.5,86.5 760.5,89.9 752.5,91 720.5,89.7 704.5,90.9 680.5,95.9 636.5,108.8 620.5,112.6 604.5,113.5 592.5,111.5 584.5,108.5 576.5,103.9 569.5,98 562.9,90 558.3,82 553.8,70 552.1,58 552.6,50 557,38 563.6,30 568.5,26 584.5,16.6ZM936.5,33.6 948.5,34.3 956.5,37.2 963.2,42 969,50 971.2,58 970.6,70 968.5,76.5 965.4,82 960.5,86.5 956.5,88.1 948.5,88.6 940.5,87 932.5,84.1 920.5,76.5 916.5,71.9 913.1,66 911.3,58 911.5,54 914.4,46 917.7,42 923,38 928.5,35.5Z"/>
<path fill="#0020ff" fill-rule="evenodd" d="M104.5,-0.7 164.5,2 216.5,1.7 232.5,3.7 268.5,11.8 280.5,15.4 312.5,30.1 320.5,35.7 340.5,53.3 380.5,95.8 387.5,106 393.7,118 400.5,127.1 420.5,147.7 432.5,157.1 456.5,169.9 476.5,177.1 492.5,180.2 532.5,184.5 548.5,188.6 564.5,195 577,202 588.5,210.8 599.4,222 614.4,242 618.8,246 624.5,249 656.5,254.5 680.5,265.9 688.5,267.9 696.5,268.2 704.5,266.4 712.9,262 720.5,255.4 733.2,242 744.5,233.7 756.5,229.4 764.5,228.8 772.5,229.9 780.5,232.9 788.5,237.5 818.8,262 828.5,266.8 836.5,269 848.5,270.5 860.5,270.3 908.5,264.1 924.5,263.3 940.5,265 956.5,269.5 980.5,280.5 1004.5,294.2 1020.5,306.2 1048.5,334 1052.5,336 1060.5,337.3 1068.5,334.5 1073.2,330 1087.6,302 1096.5,288.6 1104.5,270.7 1109.5,254 1111.1,242 1110.8,230 1108.6,210 1108.8,198 1111.3,186 1114.7,178 1120.5,169.2 1148.5,140.8 1161.7,126 1213.1,78 1234.4,54 1238.8,46 1241.5,38 1243,26 1242.6,10 1243.1,6 1245.5,2 1248.5,0.7 1256.5,0.4 1280.5,3.5 1296.5,4 1320.5,2.3 1352.1,-2 1432.5,-2 1432.5,678 56.5,678 56.5,2.2ZM822,526 809.9,530 801.6,534 790.5,542 787.3,546 785.7,550 785.6,554 787.4,558 791.3,562 798.4,566 812.5,569.7 828.5,571.1 840.5,570.6 848.5,568.8 856.5,565.2 865.4,558 871,550 873.5,542 873.4,538 871.9,534 868.5,530 864.5,527.5 856.5,524.6 844.5,523.2 832.5,524ZM624.5,48.7 628.5,47.2 636.5,46.2 644.5,47.6 650.2,50 655.4,54 658.1,58 659.2,62 658.8,66 657.1,70 652.5,74.4 640.5,77.8 632.5,77.6 622.3,74 617.9,70 615.8,66 615.2,62 615.8,58 617.9,54Z"/>
<path fill="#0050ff" fill-rule="evenodd" d="M88.5,12.1 108.5,11.7 212.5,15 236.5,19 268.5,28.3 284.5,35.6 304.5,48.2 316.6,58 348.5,87.2 372.5,105.6 380.5,113.9 412.5,158.4 416.5,162.8 425.9,170 448.5,183.3 468.5,191.7 488.5,196.5 532.5,202.7 544.5,206 556.5,210.8 564.5,215.2 573.6,222 604.1,254 616.5,265.4 620.5,267.1 636.5,269.7 644.5,272.6 652.2,278 660.5,286.6 668.5,293 676.5,295.7 700.5,297.2 716.5,300.9 726.1,306 740.5,318.5 748.5,322.5 756.5,322.3 780.5,316.8 796.5,316 839,322 888.5,326.7 924.5,333.7 940.6,338 956.5,345.3 966.3,354 972.5,366 975.7,382 978,414 976.6,430 972.5,441.3 966.8,450 956.5,460 944.5,467.5 932.5,472.4 916.5,476.8 876.5,485.5 832.5,493.9 800.5,497.4 744.5,500.6 716.5,507.2 704.5,509.1 692.5,509.5 660.5,507.3 651.3,510 639.3,518 631.8,526 624.2,538 618.9,550 607.3,586 602.2,598 595,610 580.5,629.6 576.8,638 576,642 576.5,650 579.7,658 584.5,664.5 588.5,668.3 596.5,673.1 608.5,675.5 616.5,674.7 624.5,672.4 648.5,661.8 664.5,656.3 696.5,649.1 720.5,645.3 736.5,644.7 748.5,645.9 788.5,655.4 800.5,655.5 808.5,653.6 815.8,650 821.1,646 843.4,622 876.5,601.7 908.5,575.4 924.5,564.4 944.5,552.9 960.5,545.1 1016.5,525.1 1037,514 1048.2,506 1052.3,502 1054.8,498 1055.6,494 1054.4,486 1047,462 1045.4,450 1046.3,434 1051.9,414 1057.4,402 1065.2,390 1092.5,362.2 1108.5,339.6 1120.5,330.5 1123.9,326 1125.9,318 1124.7,298 1125.2,290 1130.9,270 1139.9,250 1147.5,230 1152.5,220.1 1160.5,207.8 1178.2,186 1185.4,174 1188.1,166 1192.6,142 1195.7,134 1200.4,126 1215.5,110 1236.5,92.6 1272.5,67 1304.5,48.1 1332.5,35.9 1368.5,25.4 1384.5,21.9 1432.5,14.1 1432.5,678 56.5,678 56.5,14.8Z"/>
<path fill="#0080ff" fill-rule="evenodd" d="M108.5,23.6 204.5,26.6 220.5,28.5 232.5,31 252.5,36.8 265.6,42 280.5,49.8 292.5,58 307,70 336.5,99.1 345.5,106 372.5,123.7 382.9,134 388.5,141.7 395.7,154 399.9,166 402.6,170 436.5,193 452.5,202 468.5,208.2 484.5,211.8 516.5,215.8 532.5,218.9 548.5,224.5 560.5,231.4 580,250 592.5,259.2 612.5,276.2 626.4,286 629.3,290 633.6,302 644.5,326.1 649.4,334 654.4,338 656.5,338.8 662.2,338 684.5,321.6 692.5,318.8 696.5,318.6 700.5,319.2 708.5,322.6 728.5,338 740.5,343.1 748.5,344.1 780.5,343.2 796.5,344.8 812.5,348.4 861.1,362 894.4,374 908.5,381.5 916.5,387.4 924.5,396.3 929.2,406 930.3,414 928.6,422 926.3,426 920.5,432.1 908.5,439.2 858.8,458 828.5,466.7 800.5,471.1 740.5,474.6 700.5,481.4 692.5,481.5 668.5,479 656.5,479.5 636.5,483.9 612.5,492.8 600.5,500.1 592.5,508.4 575.5,534 554.6,570 548.5,578.2 536.5,590.3 516.5,605.9 496.6,618 472.5,629 448.5,637.3 424.5,641.9 376.5,642.5 260.5,626.4 212.5,624.7 200.5,626.3 164.5,634.2 110.3,650 84.5,659.4 56.5,666.2 56.5,26.7ZM538.2,318 531.7,322 529.8,326 530.3,330 533.2,334 540.5,336.9 556.5,335.2 572.5,336.9 579.1,334 582.6,330 583.9,326 583.4,322 580.2,318 572.5,314.9 560.5,314.1ZM1432.5,37.1 1432.5,678 1025.4,678 1016.7,670 1008.5,664 972.5,644.8 964.8,638 961.8,634 958.5,626 957.9,618 959.8,610 963.8,602 973.2,590 981.9,582 993.3,574 1012.5,564.5 1060.5,547.6 1088.5,535.8 1108.5,529.4 1116.5,524 1121.4,518 1124.1,510 1124.2,502 1123.2,498 1119.2,490 1107.8,478 1088.5,464.4 1084.5,458.6 1082.6,454 1080.6,446 1080,434 1083.3,414 1091.3,394 1104.5,377.1 1120.5,360.1 1140.2,346 1147.7,338 1149.1,334 1149.1,326 1144.6,294 1145.8,282 1149.3,270 1156.5,254.8 1160.5,249 1207,202 1220,186 1223.9,178 1226.1,170 1228.9,142 1231.9,134 1236.5,125.9 1247.2,114 1267.3,98 1292.5,82.1 1324.5,65 1352.5,53.5 1379.6,46 1396.5,42.1Z"/>
<path fill="#00acff" fill-rule="evenodd" d="M76.5,37.8 124.5,35.8 196.5,37.6 212.5,39.6 228.5,42.8 244.5,47.6 260.2,54 276.5,63.5 292.5,76.4 304.5,88.1 320.5,107.2 332.5,118.8 348.5,129.8 364.5,138.2 372.5,144.2 380.2,154 387.3,170 392.5,177 436.5,210.7 452.5,220 464.5,224.4 480.5,227.6 520.5,231.9 540.5,237.8 548.5,242 568.5,257.6 588.5,270 597.6,278 601,282 602.9,286 602.9,290 600.5,297.3 596.5,302.1 588.5,304.8 564.5,307.4 544.5,306.5 536.5,307.1 528.5,309.9 524.5,312.7 520.5,317.5 518.6,322 518.5,330 519.9,334 522.8,338 528.5,342.2 540.5,344.8 560.5,342.5 572.5,343.3 580.5,342.3 590,338 595,334 604.5,323.9 608.5,321.8 612.5,321.1 620.5,323.3 624.5,326.1 640.5,344.4 644.5,347.3 652.5,350.4 656.5,350.9 664.5,349.8 688.5,339.2 696.5,338.2 700.5,339.7 712.5,348.5 720.5,351.9 732.5,354.4 760.5,357.6 776.5,360.8 792.5,366 809.4,374 828,386 840,398 842.5,402 844.8,410 843.6,418 838.6,426 828.2,434 812.5,440.8 792.5,445.8 776.5,447.6 740.5,448.7 712.5,451.8 664.5,452.1 652.5,454.4 620.5,463.7 608.5,464.9 584.5,464.9 576.5,466 568.5,468.4 560.5,472.7 549.6,482 533.5,498 504.5,530.1 484.5,547.3 460.5,564 436.5,578.5 416.5,588.3 404.5,592.1 396.5,591.9 388.5,588.7 384.5,585.7 376.5,573.9 370.4,570 364.5,567.6 304.5,553 272.5,546.3 236.5,542.7 204.5,537.3 184.5,536.5 160.5,529.7 124.5,528.6 104.5,530.6 96.1,534 93.3,538 93.2,542 101.5,558 102.5,562 102.1,574 103.2,582 108.5,593.2 116.5,600.1 120.5,600.8 124.5,599.3 128.5,595.5 137.7,582 140.5,579.4 144.5,578.9 152.5,581.7 157.6,586 160,590 160.5,594 159,598 155.8,602 152.5,604 140.5,608.6 136.5,609.3 124.5,608.4 116.5,611.4 112.5,614 98.3,618 76.5,621.7 56.5,622.5 56.5,39.8ZM1432.5,63.1 1432.5,623.2 1420.5,622.5 1352.5,627 1292.5,637.1 1276.5,638.9 1256.5,638.4 1232.5,640.7 1220.5,640.6 1204.5,638.6 1192.5,635.3 1184.5,631.2 1180.5,627.2 1178.7,622 1178.7,618 1180.5,612.3 1184.5,606.3 1196.6,594 1198.4,590 1200.2,582 1200.1,574 1194.8,538 1194.7,530 1197.7,510 1195.8,498 1190.5,490 1185.4,486 1169.8,478 1140.5,466.8 1126.6,458 1117.6,450 1112.5,442 1109.5,430 1109.7,418 1112.8,406 1117,398 1122.8,390 1134,378 1156.5,357.1 1160.5,352.5 1164,346 1165.7,334 1162.3,306 1162.3,294 1166.2,278 1172.5,267.2 1180.9,258 1220.5,224.5 1240.5,208.7 1268.1,190 1274.8,182 1277.5,174 1277,170 1270.8,150 1270.5,142 1273,134 1281.2,122 1294.5,110 1306.1,102 1340.5,84.6 1356.5,78.2 1372.5,73.2 1392.5,68.4Z"/>
<path fill="#00dcfe" fill-rule="evenodd" d="M112.5,49.9 148.5,48.1 196.5,50.4 212.5,53 228.5,56.8 240.5,60.7 252.9,66 272.6,78 286.8,90 296.5,100 316.5,128.2 324.5,136.5 335.7,146 342.3,154 345.5,162 347.1,174 352.5,182.1 359.9,186 388.5,195.9 396.5,199.7 404.5,205.1 432.5,228.6 448.5,238.4 456.5,241.5 468.5,244.1 508.5,246.5 526.8,250 536.5,253.7 544.3,258 575.3,278 579.2,282 580.4,286 578.5,290 572.5,294.6 564.5,297.9 561.7,298 548.5,295.7 536.5,296 524.5,299.9 516.4,306 512.5,311.4 509.9,318 508.8,326 509.2,330 512.5,338.5 515.2,342 520.5,346.3 528.5,349.8 540.5,350.9 560.5,347.9 576.5,348.8 584.5,348.3 612.5,341.2 616.5,342 632.5,355.7 640.5,359.7 648.5,362.1 656.5,363.1 664.5,362.8 684.5,358.5 692.5,357.9 696.5,359.4 708.5,367.2 716.5,369.7 724.5,370.3 740.5,369 748.5,369.9 760.3,374 768.4,378 774.5,382 783.1,390 787.7,398 788.5,402 788.2,406 786.6,410 780.5,416 776.5,418.1 768.5,420.2 760.5,420.6 744.5,419.1 736.5,419.5 704.5,426.7 696.5,427.7 672.5,424 660.5,423.7 652.5,426.5 632.5,437.5 620.5,442.8 612.5,444.2 588.5,443 580.5,444.6 536.5,464.1 496.5,477.9 464.5,497 444.5,507.3 424.5,516.2 408.5,520.3 396.5,520.4 388.5,519.2 340.9,506 304.5,502.4 280.5,503.7 240.5,515.4 216.5,519.5 184.5,519.4 156.5,514.8 100.5,511.2 72.5,511.5 56.5,513.8 56.5,57.3ZM1432.5,89.3 1432.5,586.6 1406.1,586 1372.5,583.9 1336.5,579.3 1308.5,577.8 1276.5,571.2 1264.5,565.3 1256.5,557.4 1253.2,550 1252.8,546 1254.6,538 1256.8,534 1260.5,530.2 1268.5,524.3 1276.5,520 1301.7,510 1304.5,508 1306.6,506 1307,502 1304.5,498.6 1296.9,494 1284.5,488.5 1268.5,484 1252.5,477.8 1232.5,472.9 1212.5,466.4 1192.5,461.4 1157.4,446 1147.6,438 1142.6,430 1140.9,422 1143,410 1147,402 1153,394 1183.7,362 1187.9,354 1188.6,342 1180.5,317.7 1179.1,310 1180.2,294 1185.1,282 1188.5,277.2 1196.5,269.2 1220.5,251 1252.5,224.5 1305.7,194 1315.4,186 1318.1,182 1319.9,174 1314.6,154 1313.3,142 1315.1,134 1320.1,126 1328.5,118.1 1336.5,113 1364.5,101.3 1380.5,96.6 1396.5,93.1ZM72.5,569.9 77.7,574 79.8,578 80.3,582 79.3,586 76.5,589.5 68.5,592 56.5,591.1 56.5,564.5Z"/>
<path fill="#1cffdb" fill-rule="evenodd" d="M128.5,65.9 148.5,63.3 196.5,66.9 228.5,74.5 253.3,86 264.5,93.5 274.5,102 282.4,110 287.7,118 293.4,138 294.1,150 293,166 294.9,178 298.9,186 310.1,198 320.5,203.7 332.5,207.5 376.5,213.5 384.5,216.3 400.5,225.7 432.5,252.3 444.5,259.1 452.5,261.5 464.5,263.5 504.5,266.7 516.5,270 522.3,274 524.1,278 522.3,282 512.5,290.5 508.5,295.1 504.5,302.3 501.2,314 500.4,326 501.4,334 504.8,342 512.5,350.2 520.5,354.4 532.5,356.9 540.5,356.8 564.5,353.2 596.5,355.6 604.5,357.1 608.5,358.8 624.5,369.4 648.4,378 667.2,386 668.9,390 665.9,394 654.3,402 625.3,418 612.5,423.8 600.5,426.3 580.5,427.9 576.5,429.5 565.9,438 560.5,441.1 540.5,448.2 524.5,450.3 496.5,448.8 488.5,449.8 480.5,452.7 448.5,470 428.5,476.1 416.5,477.4 400.5,477.5 380.5,479.9 348.5,479.2 312.5,482.1 296.5,485.4 272.5,488.5 256.5,495 232.5,501.6 220.5,504.4 204.5,506.1 184.5,506.4 136.5,503.1 76.5,497.5 56.5,497.3 56.5,113.7 80.5,122.2 88.5,121.2 95.6,118 100,114 103.7,106 104.2,86 107.9,78 111.7,74 117.7,70ZM1404.5,113.5 1432.5,110.3 1432.5,509.8 1420.5,506 1404.5,503.5 1392.5,500.4 1376.3,494 1356.5,488.6 1338.5,482 1296.5,470.3 1215.5,450 1194.7,442 1188.2,438 1180.4,430 1178,426 1175.9,418 1176.8,410 1180.2,402 1188.5,390 1205.5,370 1214.2,354 1222.2,330 1223.5,318 1222.6,302 1225.3,286 1230.1,274 1238.2,262 1252.4,246 1268.5,233.1 1296.5,216.7 1328.6,202 1341.7,194 1345.7,190 1348,186 1349.1,178 1344.2,162 1343.2,150 1345.1,142 1352.5,132.5 1360.5,126.8 1371.7,122 1392.5,115.7Z"/>
<path fill="#43ffb4" fill-rule="evenodd" d="M1416.5,129.8 1432.5,129 1432.5,482.3 1420.5,480.2 1384.5,476.6 1348.5,468.4 1328.5,462.2 1308.4,458 1288.5,451.1 1268.5,445.8 1240.8,434 1228.6,426 1222.3,418 1220.5,413.9 1219.3,406 1222.1,394 1234.6,366 1239.9,350 1242.7,334 1241.9,310 1243,294 1247.4,278 1254.1,266 1263.8,254 1272.4,246 1300.5,227.8 1312.5,222 1373.1,198 1379.3,194 1382.8,190 1385.3,182 1385,178 1379.4,158 1380.1,150 1382,146 1385.2,142 1392.5,136.8 1404.5,132.2ZM76.5,141.5 88.5,144 100.5,144.2 124.5,142.5 136.5,143.1 144.5,145.1 164.5,153.4 188.5,155.3 220.5,163 228.5,166.8 232.5,169.7 244.6,182 260.5,196.1 273.6,210 288.5,220.5 312.5,229.2 336.5,231.3 360.5,234.8 380.5,239.6 392.5,244.4 404.5,251.5 412.5,257.6 425.3,270 432.5,274.9 440.5,277 460.5,279.9 479.3,286 485,290 488.5,295.3 491,306 493.6,338 497.4,346 504.5,354.2 512.5,359.3 524.5,362.9 536.5,363.3 564.5,359.3 588.5,362.8 599.5,366 608.5,371.7 615.1,378 617.9,382 619.4,386 619.3,390 617.9,398 616.3,402 612.5,407 604.5,412.3 596.5,414.8 576.5,417.9 572.5,419.7 560.5,430.7 548.5,435.4 536.5,437.2 524.5,436.7 512.6,434 496.5,428.8 488.5,427.7 480.5,430.4 448.5,450.5 436.5,455.6 428.5,457.8 416.5,460 384.5,462.9 335,466 296.5,474.6 276.5,478 252.5,486.1 216.5,493.5 188.5,495.5 144.5,493.7 56.5,485.3 56.5,133.5Z"/>
<path fill="#6aff8d" fill-rule="evenodd" d="M72.5,163.6 84.5,166.5 92.5,166.6 108.5,164.7 116.5,165.6 140.5,172.7 164.5,176.3 188.5,185 212.5,191 220.5,194.4 236.5,204.3 256.5,214.9 276.5,229.3 304.5,241.1 376.5,258.1 392.5,263.1 400.5,267.2 416.5,281.2 424.5,286.1 432.5,288.4 456.5,291.5 464.5,294.3 472.5,299.1 478.5,306 482,314 483.8,322 485.2,338 488.5,347.2 495.8,358 504.5,365.2 512.5,368.7 524.5,370.7 536.5,370.4 564.5,366.4 583.4,370 596.5,374.7 604.5,380.1 608.6,386 609.1,390 608.1,394 604.5,399.3 600.5,402.2 576.5,409.5 568.5,413.9 557.8,422 548.5,425.2 540.5,426.1 528.5,425 496.5,414.4 488.5,413.9 484.5,414.5 476.3,418 444.5,438 424.5,445.5 400.5,449.4 352.5,452.7 336.5,454.8 272.5,470.8 252.5,477.3 220.5,483.1 192.5,485.8 152.5,485.2 116.5,482.5 56.5,474.8 56.5,156.4ZM1432.5,193.9 1432.5,466.2 1388.5,461.3 1372.5,457.8 1352.5,452.1 1323.6,442 1312.5,437.2 1293.5,426 1276.5,413.8 1266.5,402 1262.7,394 1260.8,386 1260.5,374 1263.4,342 1258.4,314 1257.6,302 1258.9,290 1261,282 1264.5,274 1269.7,266 1276.4,258 1284.5,250.5 1303.3,238 1316.5,230.9 1344.5,220 1424.5,197.1Z"/>
<path fill="#8dff6a" fill-rule="evenodd" d="M104.5,195.7 124.5,196.1 152.5,200 188.5,209 208.5,215.2 248.5,229.9 276.5,243.6 304.5,255.6 348.5,269.7 384.5,279.8 413.9,294 424.5,296.8 448.5,299.7 456.5,302.1 464.5,306.5 468.5,310.2 472.5,315.8 475.1,322 478.5,342 482.6,354 488.5,364.8 492.5,370.1 500.5,377.3 508.5,380.4 520.5,381.4 556.5,376.7 564.5,376.6 571.3,378 580.7,382 586,386 586.9,390 582.7,394 560.5,408.5 556.5,410.8 548.5,413.3 540.5,413.7 532.5,412.4 525,410 504.5,401 500.5,399.9 492.5,399.7 484.5,402 476.5,405.7 440.5,427.7 420.5,435.2 400.5,438.8 356.5,441.8 336.5,444.5 256.5,467.8 224.5,473.8 188.5,477.1 144.5,476.5 104.5,472.9 56.5,465.1 56.5,198.3ZM1432.5,211.1 1432.5,453.9 1392.5,448.4 1376.5,444.3 1364.5,440.1 1343.2,430 1332.5,423.8 1310.9,406 1303.5,398 1297.9,390 1289.7,374 1286.9,362 1284.6,342 1276,318 1273.2,302 1273.4,294 1274.8,286 1277.8,278 1282.5,270 1293.3,258 1312.5,244.2 1328.5,236.2 1352.5,227.5 1376.5,221.7Z"/>
<path fill="#b4ff43" fill-rule="evenodd" d="M96.5,211.9 128.5,213 148.5,216.1 184.5,224.5 248.5,244.9 308.5,272.5 352.5,289.7 392.5,303.5 408.5,306.5 440.5,307.3 452.5,310.4 460.5,315.7 464.5,320.6 467.2,326 472.3,350 479,374 479.4,382 478.3,386 472.2,394 452.5,409.1 436.5,418.2 420.5,424.5 400.5,428.7 356.5,431.6 336.5,434.8 256.5,459.3 236.5,463.6 216.5,466.5 184.5,469 140.5,468.4 100.5,464.3 56.5,455.8 56.5,214.8ZM1432.5,223.8 1432.5,443 1400.5,438 1385.6,434 1374.8,430 1364.5,425 1348.5,415.4 1340.5,409.4 1328.5,398.5 1318,386 1311.4,374 1307.7,362 1304.5,339.5 1292.9,318 1288.6,302 1288.5,294 1290.1,286 1295.7,274 1306.1,262 1322.9,250 1340.5,241.7 1360.5,235.5 1384.5,230.7Z"/>
<path fill="#dbff1c" fill-rule="evenodd" d="M92.5,222.8 124.5,224 152.5,228.6 192.5,238.8 252.5,259 296.5,281.7 350.6,306 376.5,319.1 388.5,323.5 400.5,324.5 422.8,318 432.5,316.3 440.5,316.4 446.6,318 452.5,321.5 456.5,326 460,334 465.2,366 465.3,374 463.5,382 458.6,390 448.5,399.2 436.5,406.6 418.9,414 400.5,418.2 360.5,420.6 336.5,424.5 320.5,429.2 260.5,449.6 232.5,455.9 208.5,458.9 184.5,460.7 140.5,460.4 100.5,456 56.5,446.4 56.5,225.4ZM1432.5,235.5 1432.5,432.7 1404.5,427.7 1384.5,420.6 1365.4,410 1346.2,394 1335.8,382 1331,374 1327.1,362 1326,342 1324.9,338 1307.6,314 1304.5,306 1303.2,298 1305,286 1311.5,274 1320.5,264.7 1332.5,256.6 1344.5,251 1360.5,245.9 1380.5,242.2Z"/>
<path fill="#feed00" fill-rule="evenodd" d="M96.5,231.9 124.5,233.2 160.5,239.8 200.5,251.4 252.5,270.3 280.5,287.2 324.5,311.5 348.5,323.5 364.5,335.1 388.5,344.1 396.5,345.6 404.5,344.3 428.5,330.5 436.5,328.4 440.5,328.8 444.5,331.3 446.5,334 448.5,338 450.5,346 452.1,366 449.5,378 444.6,386 440.5,390 428.5,397.5 416.5,402.7 400.5,406.2 364.5,408.3 340.5,412.6 320.5,418.5 260.5,440.6 244.5,445.2 228.5,448.2 192.5,452.1 164.5,452.9 140.5,452.2 104.5,448.1 56.5,436.9 56.5,234.3ZM1432.5,248.3 1432.5,422.9 1416.5,419.8 1400.5,413.8 1381.9,402 1369,390 1359.8,378 1354,366 1352.3,358 1352.4,342 1351.6,338 1346.3,330 1326.2,310 1321.8,302 1320.3,294 1321.6,286 1324.5,280.1 1328.5,274.8 1336.5,267.9 1346.9,262 1356.5,258.3 1368.5,255.4Z"/>
<path fill="#ffc100" fill-rule="evenodd" d="M100.5,240.1 124.5,241.2 156.5,246.9 196.5,258.9 220.5,269.1 244.5,277.2 252.5,281.1 289.4,306 320.5,330.4 324.5,332.8 340.8,338 356.5,350.7 364.5,355.8 376.5,360.7 388.5,363.7 396.5,363.7 416.5,359.2 424.5,359.1 428.5,361.4 430.5,366 429.4,374 423.5,382 417.9,386 412.5,388.4 400.5,390.7 372.5,391.4 348.5,396.3 320.5,405.6 260.5,431.1 240.5,437.5 224.5,440.8 192.5,444.4 160.5,445.1 140.5,444.1 120.5,442.1 104.5,439.3 80.5,434.1 56.5,427.1 56.5,243ZM1424.5,261.8 1432.5,261.7 1432.5,412.3 1424.5,411 1416.5,408.1 1408.5,403.4 1402.4,398 1394.4,386 1391.5,378 1390.4,370 1390.5,362 1392.4,354 1395.5,346 1400.5,337.9 1408.5,329.9 1412.5,327.4 1420.5,325.2 1424.5,322.4 1424.5,321.2 1420.5,318.1 1404.5,318.7 1380.5,315.6 1364.5,311.4 1352.5,306.1 1348.5,303 1344.5,298 1343.1,294 1343.8,286 1346.3,282 1350.4,278 1356.6,274 1368.2,270 1376.5,268.3 1400.5,266Z"/>
<path fill="#ff9400" fill-rule="evenodd" d="M68.5,250 112.5,247.5 124.5,248.3 148.5,252.1 192.5,265.9 220.5,279.2 244.5,287.5 252.5,292.4 264.5,302.4 276.5,309.9 280.5,313.7 286.2,322 292.5,335.3 296.5,338.3 305.2,342 316.5,349.8 325.6,354 328.5,356.6 331.8,362 332.7,366 332.3,370 330.6,374 327.2,378 316.7,386 265.1,418 252.5,424 240.5,428.4 216.5,434.3 184.5,437.2 160.5,437.6 140.5,436.3 123.1,434 100.5,429.5 56.5,417.6 56.5,352.7 92.5,354.6 105,350 110.3,346 112.1,342 107.6,338 76.5,328.2 56.5,317.9 56.5,252.1ZM1420.5,277 1428.5,274.6 1432.5,275.4 1432.5,292.9 1424.5,292.2 1419.7,290 1416.5,286.3 1416.3,282ZM1432.5,353.5 1432.5,399.2 1424.5,397.4 1416.5,391.3 1412.9,386 1411.3,382 1410.2,374 1412.3,366 1416.5,360.4 1424.5,355.7Z"/>
<path fill="#ff6c00" fill-rule="evenodd" d="M84.5,257.6 104.5,254.8 120.5,254.6 140.5,256.9 156.5,260.7 191.4,274 224.5,292.6 240.5,298.8 244.5,301.2 256.5,312.1 265.9,318 268.9,322 270,326 268.5,335 264.5,341 260.5,344.2 247.5,350 248.1,354 258.1,370 263.4,382 263.9,394 260.8,402 257.6,406 244.5,416 220.5,425.2 196.5,429.2 168.5,430.6 144.5,429.1 126.8,426 64.5,408.4 56.5,404.9 56.5,374.4 64.5,372.5 88.5,371.1 104.5,366.2 131.3,350 140.6,342 143.6,338 142.3,334 132.5,328.6 124.5,326.5 104.5,323.7 84.5,317 73.2,310 61.8,298 56.5,288.6 56.5,266.4 63.1,262Z"/>
<path fill="#ff3f00" fill-rule="evenodd" d="M108.5,261.6 120.5,261 136.5,262.2 148.5,264.7 162.7,270 179.8,278 192.1,286 200.2,294 202.3,298 201.5,302 196.5,306 180.5,313.4 152.5,317.6 136.5,317.8 116.5,316.3 105.4,314 94.8,310 84.5,303.1 77.5,294 75,286 75.6,278 80.5,271.9 88.5,267.1 100.5,263.1ZM188.5,349.6 200.5,352.2 216.5,359.9 226,366 230.4,370 238,382 239.6,390 238.3,398 232.6,406 221.3,414 204.5,419.9 184.5,423 160.5,423.4 140.5,420.5 124.5,415.2 108.7,406 104.3,402 101.5,398 100.8,394 101.9,390 104.8,386 117.2,374 128.5,365.4 136.5,360.7 148.5,355.4 164.5,351Z"/>
<path fill="#ff1600" fill-rule="evenodd" d="M108.5,269.7 116.5,268.2 128.5,267.7 140.5,269.2 148.5,271.7 161.2,278 171.8,286 173.9,290 173.8,294 171,298 164.5,301.8 148.5,306.7 128.5,308.1 112.5,305.3 105.1,302 99,298 95.1,294 92.8,290 92,286 92.5,282 96.5,276.1 100.5,272.9ZM152.5,365.2 164.5,362.6 180.5,362.3 192.5,364.1 204.5,368.8 211.9,374 218.4,382 220.4,390 218.5,398 212.5,405.2 204.8,410 196.5,413 184.5,415.4 172.5,416.4 160.5,416 148.5,413.9 138,410 131.7,406 127.6,402 125.2,398 124.2,394 125.6,386 131,378 135.4,374 144.5,368.4Z"/>
<path fill="#cd0000" fill-rule="evenodd" d="M120.5,277.2 132.5,275.9 141,278 147.6,282 150.8,286 150.7,290 145.5,294 136.5,296.6 128.5,296.8 120.5,294.5 114.6,290 112.7,286 113.7,282ZM160.5,373.4 168.5,372.1 176.5,372.3 185.4,374 194.4,378 199.3,382 202,386 203.1,390 202.7,394 200.6,398 196.3,402 192.5,403.9 184.5,406.7 176.5,408.1 160.5,407.3 148.5,402.7 143.3,398 141.4,394 141,390 142.3,386 144.9,382 149.6,378Z"/>
<path fill="#960000" fill-rule="evenodd" d="M168.5,385.7 172.5,385.1 176.6,386 179.9,390 178.4,394 172.5,396.1 166.1,394 164.5,390Z"/>
<use href="#coast"/>
</g>
<rect x="58.5" y="0" width="1371.0" height="675.0" fill="none" stroke="#000" stroke-width="3.2"/>
<text x="258.6" y="-25.3" font-size="53" textLength="970.9" lengthAdjust="spacingAndGlyphs" xml:space="preserve">Combined (GIM), 2024-01-16 00:00 UT</text>
<rect x="58.20" y="718.0" width="62.92" height="68.0" fill="#000096"/>
<rect x="120.52" y="718.0" width="62.92" height="68.0" fill="#0000cd"/>
<rect x="182.84" y="718.0" width="62.92" height="68.0" fill="#0000ff"/>
<rect x="245.15" y="718.0" width="62.92" height="68.0" fill="#0020ff"/>
<rect x="307.47" y="718.0" width="62.92" height="68.0" fill="#0050ff"/>
<rect x="369.79" y="718.0" width="62.92" height="68.0" fill="#0080ff"/>
<rect x="432.11" y="718.0" width="62.92" height="68.0" fill="#00acff"/>
<rect x="494.43" y="718.0" width="62.92" height="68.0" fill="#00dcfe"/>
<rect x="556.75" y="718.0" width="62.92" height="68.0" fill="#1cffdb"/>
<rect x="619.06" y="718.0" width="62.92" height="68.0" fill="#43ffb4"/>
<rect x="681.38" y="718.0" width="62.92" height="68.0" fill="#6aff8d"/>
<rect x="743.70" y="718.0" width="62.92" height="68.0" fill="#8dff6a"/>
<rect x="806.02" y="718.0" width="62.92" height="68.0" fill="#b4ff43"/>
<rect x="868.34" y="718.0" width="62.92" height="68.0" fill="#dbff1c"/>
<rect x="930.65" y="718.0" width="62.92" height="68.0" fill="#feed00"/>
<rect x="992.97" y="718.0" width="62.92" height="68.0" fill="#ffc100"/>
<rect x="1055.29" y="718.0" width="62.92" height="68.0" fill="#ff9400"/>
<rect x="1117.61" y="718.0" width="62.92" height="68.0" fill="#ff6c00"/>
<rect x="1179.93" y="718.0" width="62.92" height="68.0" fill="#ff3f00"/>
<rect x="1242.25" y="718.0" width="62.92" height="68.0" fill="#ff1600"/>
<rect x="1304.56" y="718.0" width="62.92" height="68.0" fill="#cd0000"/>
<rect x="1366.88" y="718.0" width="62.92" height="68.0" fill="#960000"/>
<rect x="58.5" y="718.0" width="1371.0" height="68.0" fill="none" stroke="#000" stroke-width="3.2"/>
<line x1="58.50" y1="786.0" x2="58.50" y2="801.6" stroke="#000" stroke-width="3.2"/>
<text x="45.95" y="848.0" font-size="44.7" textLength="26.5" lengthAdjust="spacingAndGlyphs">0</text>
<line x1="245.45" y1="786.0" x2="245.45" y2="801.6" stroke="#000" stroke-width="3.2"/>
<text x="219.65" y="848.0" font-size="44.7" textLength="53.0" lengthAdjust="spacingAndGlyphs">15</text>
<line x1="432.41" y1="786.0" x2="432.41" y2="801.6" stroke="#000" stroke-width="3.2"/>
<text x="406.61" y="848.0" font-size="44.7" textLength="53.0" lengthAdjust="spacingAndGlyphs">30</text>
<line x1="619.36" y1="786.0" x2="619.36" y2="801.6" stroke="#000" stroke-width="3.2"/>
<text x="593.56" y="848.0" font-size="44.7" textLength="53.0" lengthAdjust="spacingAndGlyphs">45</text>
<line x1="806.32" y1="786.0" x2="806.32" y2="801.6" stroke="#000" stroke-width="3.2"/>
<text x="780.52" y="848.0" font-size="44.7" textLength="53.0" lengthAdjust="spacingAndGlyphs">60</text>
<line x1="993.27" y1="786.0" x2="993.27" y2="801.6" stroke="#000" stroke-width="3.2"/>
<text x="967.47" y="848.0" font-size="44.7" textLength="53.0" lengthAdjust="spacingAndGlyphs">75</text>
<line x1="1180.23" y1="786.0" x2="1180.23" y2="801.6" stroke="#000" stroke-width="3.2"/>
<text x="1154.43" y="848.0" font-size="44.7" textLength="53.0" lengthAdjust="spacingAndGlyphs">90</text>
<line x1="1367.18" y1="786.0" x2="1367.18" y2="801.6" stroke="#000" stroke-width="3.2"/>
<text x="1328.13" y="848.0" font-size="44.7" textLength="79.5" lengthAdjust="spacingAndGlyphs">105</text>
</g>
<g transform="translate(0,1098.5)">
<g clip-path="url(#mc)">
<rect x="58.5" y="0" width="1371.0" height="675.0" fill="#000096"/>
<path fill="#0000cd" fill-rule="evenodd" d="M276.3,-2 292.5,0.3 308.5,0.8 315.7,2 327.3,6 356.5,18.5 388.5,25.3 396.5,28.8 400.5,32.2 404.5,37.8 410.3,50 417.7,70 423,78 432.5,85 440.5,88.7 448.5,90.9 460.5,91.9 472.5,90.6 485.1,86 492.5,81.5 496.4,78 499,74 501.5,66 502.4,54 499.8,22 500,14 501,10 504.5,4.8 508.5,1.7 516.2,-2 759.3,-2 768.5,7.6 776.9,22 783.9,42 786.7,58 785.6,74 781.6,86 773.6,98 764.5,105.2 760.5,106.9 752.5,108 712.5,101.5 684.5,101.3 668.5,103.3 652.5,108.7 640.5,111.7 612.5,112.3 592.5,114.9 580.5,112.8 557.2,102 544.5,100.9 536.5,102.1 530.4,106 528.2,110 527.5,118 529.9,130 534.8,142 540.5,150.5 544.5,152.6 552.5,151.8 572.5,143.8 584.5,141.4 596.5,144.3 616.5,156 624.5,158.4 632.5,156.7 644.5,151.4 652.5,149.1 668.5,148.3 684.5,151 692.4,154 708.5,163.4 712.5,163.6 728.3,154 736.5,150.3 744.5,148 752.5,147.6 756.5,148.8 760.5,151.7 764.5,157.4 766,162 766.6,170 765.9,174 764.4,178 760.5,183 756.5,185.7 752.5,187 748.5,187.5 740.5,186.3 730.7,182 716.5,171.8 712.5,170 708.5,170.1 704.5,172 696.2,178 684.5,184.1 672.5,187.2 660.5,188.2 652.5,187.6 644.5,185.5 628.5,178.3 620.5,177.2 592.5,185.6 580.5,187.2 572.5,187.2 560.5,184.8 555.2,182 540.5,171.1 536.5,170.6 532.5,171.6 524.5,176.1 504.5,192 500.5,196.4 497.1,202 496.2,206 497.5,210 504.5,214.2 552.5,227.2 560.5,228.2 576.5,227.4 600.5,232 608.5,235.3 619.9,242 648.5,263.1 654.4,266 660.5,267.3 675.7,266 688.5,261.8 694.3,258 708.5,245.7 720.5,239.9 728.5,238.2 744.5,236.8 772.5,228.8 784.5,228.7 796.5,231.4 808.5,236.1 832.5,248.4 908.5,284.1 928.5,290.8 968.5,300.4 980.5,304.8 988.5,308.9 1000.5,318 1008.5,327.7 1013.4,338 1019,358 1024.5,368.2 1032.5,374 1036.5,375.2 1044.5,375.7 1052.5,374.4 1060.5,371.4 1068.5,366.2 1072.5,362.3 1107.3,318 1111.4,310 1116.5,291.7 1117.5,278 1120.9,262 1121.8,242 1120.7,206 1119,198 1114.5,186 1108.5,176.4 1104.5,172.7 1096.5,169.1 1088.5,169.9 1068.5,178.8 1056.5,181.5 1048.5,181.4 1040.5,179.6 1028.5,172.6 1022.2,166 1016.8,158 1011,146 1008.4,138 1006.1,122 1009.1,98 1008.2,94 1004.5,89.7 1000.5,88.8 996.5,89.7 980.3,98 964.5,103.6 952.5,106.2 940.5,107.4 924.5,107 912.5,104.9 900.5,100.9 887.8,94 878.1,86 871.6,78 867.3,70 864.3,58 864.2,50 866.8,38 870.6,30 877.1,22 882.2,18 889.8,14 920.5,5.5 935.9,-2 1432.5,-2 1432.5,678 56.5,678 56.5,-2ZM1077.6,66 1064,74 1056.3,82 1053,90 1054.5,98 1059.9,106 1067.6,114 1084.5,127.1 1088.5,129 1096.5,130.4 1104.5,129.2 1112.5,125.9 1116.5,123.2 1124.5,114.7 1128.5,108.4 1131.2,102 1133.3,90 1131.9,82 1130,78 1126.9,74 1120.5,69.1 1104.5,62.9 1092.5,62.2ZM534,310 528.2,314 525.2,318 523.6,322 524,330 526.4,334 531.4,338 536.5,339 540.5,338.7 556.8,334 564.9,330 568.3,326 569.1,322 568.2,318 564.9,314 558.1,310 552.5,308.3 544.5,307.5Z"/>
<path fill="#0000ff" fill-rule="evenodd" d="M179.2,-2 212.5,0.4 268.5,10.8 312.5,27.4 356.5,53.2 380.5,64.9 390.7,74 397.9,86 414.4,94 463.1,122 472.5,128.2 480.5,135.2 485.9,142 489.9,150 491.7,162 489.6,170 480.5,184 477.6,190 475.7,202 477.4,210 479.2,214 484.5,220.6 491.8,226 520.5,240.7 532.5,245.4 544.5,245.9 572.5,240.7 580.5,241.7 588.5,245.1 595.1,250 598.7,254 603.6,262 607.3,274 608.5,290 610.3,294 612.5,294.5 648.5,296.5 664.5,295.7 680.5,293.3 692,290 700.5,286 708.5,280.3 720.5,269.1 724.5,267.1 732.5,265.6 748.5,265.4 776.5,268.3 796.5,272.8 812.5,278.9 826,286 837.7,294 876.5,328.4 928.5,367.4 936.5,375.6 944.5,386.5 964.5,424.1 973.7,438 984.5,447.4 992.5,450.7 1000.5,451.8 1012.5,449.6 1024.5,442.9 1060.5,410.8 1084.5,380.6 1091.7,362 1104.5,337.8 1108.5,333.2 1120.5,326.2 1123.3,322 1125.6,314 1131.4,274 1144.5,235.6 1164.5,195 1170.3,178 1172.2,166 1173,142 1175.7,126 1180.4,110 1192.4,78 1196.9,62 1200.3,18 1200.1,6 1200.5,2 1202.4,-2 1432.5,-2 1432.5,678 56.5,678 56.5,-2ZM534.1,286 524.5,290.5 515.8,298 508.5,308 504.9,318 504.6,326 505.5,330 508.5,336 513.9,342 524.5,347.6 532.5,349.2 540.5,349.1 564.5,344.9 576.5,341.2 587.2,334 594.5,326 599.5,318 604.4,306 605.8,298 604.5,296.2 600.5,294.8 576.5,291.3 548.5,285.4 540.5,284.8ZM768,518 756.5,521.9 748.8,526 739.7,534 737.3,538 736.2,542 736.6,546 738.3,550 746,558 751.9,562 760.5,566.5 770.6,570 776.5,571 784.5,570.9 792.5,568.8 800.5,564.6 808.5,557.2 812.5,550.9 814.3,546 814.9,538 812.2,530 809.1,526 804.5,522.2 795.1,518 780.5,516.3ZM616.5,25.6 632.1,26 644.5,28.8 656.6,34 666.7,42 670.9,50 671.1,58 668.1,66 661.7,74 656.5,77.7 652.5,79 632.5,80.8 584.5,78.8 580.2,78 573.9,74 569.8,66 569.3,58 571.7,50 576.5,43.4 582.7,38 592.5,32.3 604.5,27.9Z"/>
<path fill="#0020ff" fill-rule="evenodd" d="M96.5,6 164.5,7.7 204.5,9.7 224.5,12.6 260.5,20.2 293.6,34 308.5,41.9 368.5,79.1 388.5,93.7 400.5,99.8 414.2,110 439.5,134 446,142 451.1,150 454.3,158 455.8,166 455.4,186 456.5,198 458.8,206 462.6,214 472.5,226.2 500.6,246 507.5,254 509.6,258 511.3,266 509.5,274 493.2,302 489.3,314 488.7,322 489.7,330 493,338 499.6,346 508.5,352.1 520.5,356.2 532.5,357.3 544.5,356.4 564.5,353.2 579.3,350 590.4,346 624.5,328.2 644.5,321.1 660.5,318.3 716.5,311.5 740.5,303.7 752.5,300.9 768.5,300.1 788.5,302.8 804.5,308.5 813,314 819.4,322 827.3,338 832.5,345.7 870.4,386 884,402 891.9,414 895.3,422 896.2,430 895.7,434 892.7,442 887,450 877.3,458 868.5,462.6 856.5,466.4 836.5,469.4 776.5,473.5 676.5,486.7 661.5,490 649.7,494 627,506 612.5,518 606.4,526 602.2,534 597.1,550 588.2,590 579.9,610 566.7,630 529.7,678 56.5,678 56.5,9.3ZM1432.5,13.4 1432.5,678 970.5,678 964.5,670.3 960.5,663.2 950,638 941.7,622 933.1,610 919.6,594 917.7,590 917.4,586 919.8,578 928.5,567.3 940.2,558 953.5,550 971,542 988.5,536.5 1004.5,533.4 1020.5,531.7 1056.5,530.4 1068.5,528.6 1092.5,520.2 1100.5,514.9 1104.2,510 1106,506 1107.7,498 1107.8,490 1106.8,486 1104.5,481.3 1100.5,476.2 1078.1,458 1075.7,454 1074.8,446 1076.5,441.8 1088.1,430 1090.2,426 1091.1,422 1090.4,410 1092.2,398 1096.9,386 1100.9,370 1107.8,354 1112.5,348.1 1116.5,345.9 1124.5,343.9 1128.5,341.8 1132.6,338 1137.7,330 1140.3,322 1141.2,298 1144.5,277.9 1152.2,258 1160.1,242 1191.6,194 1197.9,182 1202.5,166 1204.2,134 1206.1,122 1209.8,110 1216.4,98 1228.5,85.4 1260.5,59.9 1284.5,44.8 1300.5,37.1 1328.5,27.3 1360.5,20.4 1384.5,17.2ZM573.2,258 572.5,260.5 571.4,258Z"/>
<path fill="#0050ff" fill-rule="evenodd" d="M104.5,17.9 164.5,18 204.5,19.7 224.5,22.6 252.5,28.6 275,38 297.8,50 399.2,118 410.3,130 419.8,146 424.3,162 426.1,186 428.9,194 433.3,202 444.9,218 455.8,230 468.5,240.2 484.5,250 488.5,254.1 490.7,262 489.6,270 476.8,298 474.5,306 473.6,318 475.6,330 480.6,342 488.5,352.1 496.5,358.3 504.5,362.1 512.5,364.2 520.5,365 532.5,364.8 584.5,357.4 644.5,343 660.5,340 740.5,335.2 760.5,336.1 772.5,339.2 780.5,343.2 788.5,350 797,362 804.8,378 809.4,394 809.1,406 805.8,414 798.6,422 785.9,430 768.5,437.3 748.5,443.3 724.5,447.7 680.5,452 668.5,455.5 636.5,467.6 612.5,473.3 592.5,475.4 556.5,476.2 548.5,478 545.5,482 545,486 547,510 544.9,526 537.7,546 528.5,562 512.5,580.6 480.5,607 463.5,618 444.5,625.7 420.5,630.7 396.5,632.6 364.5,630.2 324.5,623.7 300.5,621.1 244.5,619.5 216.5,620.2 200.5,619.1 184.5,621.7 152.5,631.5 144.5,633 132.5,633.6 112.5,632.1 84.5,635.7 56.5,635.6 56.5,22.2 84.5,19ZM139.4,542 137.1,546 139.5,550 144.5,553.6 176.5,567.1 184.5,568.5 200.5,569.1 204.5,567.3 207.2,562 206.3,558 203,554 197.7,550 180,542 168.5,539.9 152.5,539.3 144.5,540.3ZM1388.5,37.6 1432.5,34.1 1432.5,638.4 1416.5,636.7 1400.5,636.7 1348.5,643 1280.5,648.4 1228.5,648.4 1216.5,647.1 1204.5,644.5 1196.5,641 1188.2,634 1186.4,630 1185.6,622 1189.7,602 1188.4,590 1184.5,581.7 1164.5,556.1 1157.5,542 1154.8,530 1154.7,498 1152.6,486 1145.2,474 1122.8,450 1117.2,438 1115.1,426 1114.2,406 1115.8,386 1118.6,374 1122.1,366 1125.1,362 1132.5,355.4 1152.2,342 1156.8,338 1159.4,334 1160.6,326 1159.3,294 1161.4,282 1166.6,266 1171.9,254 1179.4,242 1196.5,219.2 1221.4,190 1229,178 1232.2,166 1230.8,142 1232,126 1236.5,114 1242,106 1254.1,94 1272.5,80.4 1288.5,70.3 1312.5,57.6 1328.5,51.4 1352.5,44Z"/>
<path fill="#0080ff" fill-rule="evenodd" d="M104.5,29.8 160.5,28.4 196.5,29.6 220.5,32.4 245.1,38 268.5,47.7 293.5,62 358.2,110 384.5,135.5 388.5,141.6 389.8,146 389.8,154 388.5,158 386.2,162 375.8,174 371.3,182 370.4,190 372.5,196.3 377.1,202 383,206 408.5,215.7 420.5,222.5 438.4,238 456.7,258 459,262 460.8,270 455.8,302 457,314 460.2,326 467,342 474.5,354 484.5,364.7 492.5,369.9 500.5,373 512.5,374.5 524.5,373.6 564.5,367.6 592.5,365.5 624.5,366.1 668.5,371.7 680.5,371.1 708.5,367.1 720.5,367.3 732.5,370.2 739.3,374 743.5,378 747.3,386 746.9,394 745.3,398 742.7,402 736.5,407.6 728.5,411.8 720.5,414.1 712.5,414.7 704.5,414.1 676.5,408.1 668.5,409.1 660.5,413.3 656.5,417.1 648.9,430 644.5,435.1 632.5,441.9 620.5,445.4 600.5,447.3 536.5,444.4 528.5,445.1 520.5,447.5 511,454 502.4,466 498,478 492.5,505.1 488.5,512.7 484.5,517 477,522 464.5,526.4 452.5,528 436.5,527.5 368.5,515.8 348.5,511.5 316.5,510.2 308.5,510.9 296.5,513.5 268.5,523 252.5,526.8 228.5,527.2 164.5,522.4 132.5,522.5 124.5,523.2 101,530 93.6,534 87.1,542 86.2,546 86.7,550 88.5,553.2 93.5,558 108.5,569.2 128.1,578 139.5,586 142.5,590 143.3,594 141.9,598 136.5,602 124.5,604.6 96.5,607.2 56.5,607.5 56.5,34.4ZM1432.5,53.4 1432.5,592.1 1376.5,594 1336.5,590.5 1292.5,583 1264.5,575.4 1244.5,566.8 1231.5,558 1227.3,554 1221.5,546 1219.6,542 1218.4,534 1220.3,526 1223,522 1232.5,514.1 1240.5,510.6 1264.5,503.1 1268.5,500.6 1270.6,498 1271.4,494 1269.8,490 1265.6,486 1240.5,475.2 1224.5,470.7 1188.5,457.3 1168.5,447.5 1160.1,442 1151.3,434 1143.9,422 1141.7,414 1141.1,406 1143.1,390 1146,382 1150.7,374 1157,366 1172.5,349.4 1179.4,338 1180.5,334 1180.9,326 1178.7,298 1179.2,286 1183.5,270 1191.3,254 1199.3,242 1208.5,231.2 1250,194 1256.5,186.7 1259.3,182 1261.7,174 1262,166 1258.1,146 1257.7,134 1260.9,122 1265.7,114 1276.5,103.6 1296.5,90.5 1316.5,80.1 1336.5,71.8 1360.5,63.9 1380.5,59 1396.5,56.4Z"/>
<path fill="#00acff" fill-rule="evenodd" d="M116.5,41.8 168.5,39.8 200.5,41.6 220.5,44.3 240.5,49.7 256.5,56.1 276.5,66.8 293.7,78 329.3,106 342.8,118 349.8,126 356.3,142 356.7,150 353.2,158 343,174 339.8,182 339.2,190 341.6,198 350.2,210 360.2,218 372.5,224.3 404.5,236.3 413.3,242 420.9,250 425.6,258 427.8,266 428,274 425.8,290 426.9,298 464.5,360.6 476.5,376 488.5,385.1 500.5,388.6 512.5,387.5 540.5,379.1 560.5,375.4 580.5,374.9 600.1,378 609.8,382 615.8,386 622.2,394 623.5,398 623.3,406 619.2,414 615,418 608.5,421.7 596.5,424.8 572.5,425.5 548.5,428.6 520.5,428.5 508.5,430.7 500.5,434.4 490.6,442 468.5,467 460.5,474.5 448.5,481.6 436.5,485 424.5,485.9 400.5,484.6 376.5,486.4 352.5,484.3 328.5,485 312.5,484.4 276.5,487.8 264.3,490 228.5,503.7 208.5,508.5 188.5,510.9 124.5,511.3 108.5,514.8 86,518 56.5,526.1 56.5,48.1ZM1388.5,77.5 1408.5,75.3 1432.5,76.2 1432.5,566.1 1408.5,565.8 1376.5,561.8 1338.8,554 1325.7,550 1317.6,546 1313.9,542 1312.5,538 1313.7,534 1320.5,526 1335.6,514 1338.9,510 1340.5,506.1 1340.6,502 1336.5,493.9 1332.1,490 1317.6,482 1280.5,466.5 1220.5,445.8 1192.5,434.1 1184.5,427.9 1178.8,422 1176.3,418 1174.3,410 1174.8,402 1179.1,390 1184.5,381.7 1204.5,358.8 1208.5,351.2 1209.8,346 1208.6,338 1198.6,318 1194.9,302 1195.3,290 1200,274 1210.7,254 1224.5,237.7 1248.1,218 1278,198 1285.6,190 1287.9,186 1289.3,178 1283.7,154 1282.3,142 1283.6,134 1287.2,126 1292.5,119.5 1298.9,114 1310.8,106 1324.5,98.7 1360.5,84.7Z"/>
<path fill="#00dcfe" fill-rule="evenodd" d="M144.5,53.8 168.5,53.5 200.5,56 220.5,59.9 240,66 257.1,74 277.5,86 298.2,102 313.5,118 315.8,122 318.3,130 318,138 316.5,142.4 312.5,148.9 307.9,154 288.1,170 284.9,174 283.8,178 285.6,182 304.5,197.5 320.5,218.2 328.5,226.1 336.5,231.2 356.5,240.6 388.5,253 392.5,255.4 396.5,259.5 398.9,266 398.4,274 390,294 389,298 389.6,302 392.2,306 396.5,309.4 416.5,320.2 424.5,325.5 436.5,337.7 444.5,349.7 453.4,366 465.2,390 469.6,402 470.3,414 468,422 464.4,430 454,446 441.4,458 435,462 425.7,466 408.5,469.7 380.5,471.9 308.5,471.7 268.5,474.1 256.5,476.3 220.5,488.7 192.5,495.8 164.5,498 116.5,498.8 96.5,501.9 72.5,502.4 56.5,506 56.5,67.4 64.5,65.2 96.5,60ZM1380.5,97.9 1392.5,95.4 1404.5,94.3 1432.5,96.9 1432.5,504.9 1384.5,487.7 1304.5,456.2 1268.5,440.9 1255.4,434 1244,426 1239.8,422 1234,414 1231.2,406 1230.8,402 1231.8,394 1234,386 1244.5,358.4 1244.7,350 1241.3,342 1232.5,335.4 1220.5,320.4 1217.1,314 1215,306 1214.8,294 1219.4,278 1227.3,262 1239.3,246 1248.5,237.2 1263.8,226 1308.5,199.2 1313.6,194 1315.9,190 1317.2,186 1316.9,178 1310.8,158 1309.7,150 1311.6,138 1316,130 1324.5,121.4 1336.5,113.6 1356.5,105ZM552.5,385.9 564.5,384.3 580.5,386.6 587.7,390 590.6,394 591.1,398 589.3,402 584.1,406 572.5,409.7 560.5,412.1 552.5,412.8 544.5,412.1 537.1,410 532.5,406.6 530.5,402 531.4,398 534.4,394 540.8,390Z"/>
<path fill="#1cffdb" fill-rule="evenodd" d="M144.5,77.3 156.5,75.2 168.5,74.6 188.5,76 201.3,78 215.2,82 224.5,86 230.6,90 239.1,98 242.1,102 245.6,110 246.6,118 245,126 237.6,138 212.5,167.1 208.5,168.7 204.5,166.4 190.7,154 180.5,147.1 168.5,140.6 145,130 138.6,126 125.7,102 125.3,94 129.6,86 133.8,82ZM1388.5,113.1 1404.5,112.4 1432.5,117 1432.5,476.7 1388.5,466.9 1344.5,452.1 1316.8,438 1291.5,418 1280.3,406 1274.1,394 1271.6,382 1271,354 1268.5,342.4 1249.8,318 1245.5,310 1243.5,302 1243.5,286 1245.5,274 1250.4,262 1258.8,250 1267.6,242 1283.7,230 1325.8,206 1332.5,200.3 1337,194 1338.5,190 1339.1,182 1337.2,174 1332.2,162 1330.8,154 1331.9,146 1335.8,138 1344.5,130 1358.6,122 1369.1,118ZM72.5,115.4 84.5,116 112.5,127.3 117.1,130 121.2,134 123.2,138 126.4,162 128.5,170 134.3,178 140.2,182 168.5,192.1 202.2,206 224.5,212.2 244.5,222.2 276.5,231.4 320.5,251.1 340.5,257.5 371,278 374.3,282 376.8,302 380.1,310 383,314 392.5,321.5 416.5,334.9 424.5,341.7 433.6,354 442.7,374 445.9,386 446.9,394 445.8,410 440.7,426 436.4,434 430.4,442 424.5,447.5 416.5,452.8 408.5,456.2 400.5,458.3 384.5,459.6 308.5,461 264.5,463.4 248.5,466.6 208.5,477.2 176.5,482.2 144.5,483.2 68.5,480 56.5,480.3 56.5,117.6Z"/>
<path fill="#43ffb4" fill-rule="evenodd" d="M1388.5,129.7 1396.5,130.3 1432.5,137.7 1432.5,458.4 1404.5,454.8 1376.5,447.5 1348.5,434.8 1328.5,418.8 1321.3,410 1311.5,394 1304.5,374 1299.2,346 1296.5,340.3 1288.5,331.7 1279.5,318 1275.9,310 1273.9,302 1273.2,286 1275.1,274 1280.2,262 1288.9,250 1303.3,238 1320.5,226.8 1362.3,202 1368,198 1371.6,194 1373.3,190 1374,182 1365.7,158 1364.7,150 1365.5,146 1367.4,142 1372.5,136.7 1380.5,131.9ZM60.5,154.4 72.5,157.9 80.5,163.6 84.5,168.3 87.5,174 90.4,186 92.5,190 95.4,194 100.5,198 104.5,199.4 124.5,201.2 160.5,207.4 180.5,212.7 220.5,225.7 244.5,236.2 268.5,244.2 288.2,254 308.5,262.1 336.5,277.4 349.1,286 356.5,293.1 360.5,298.4 370.7,318 376.5,326.4 380.5,329.1 392.5,333.3 408.7,342 417.1,350 424.2,362 428.9,378 429,394 424.5,410.2 417.4,426 412.7,434 409.2,438 403.8,442 392.5,445.7 264.5,453.3 204.5,466.5 176.5,470.1 144.5,470.7 79.7,466 56.5,465.7 56.5,154.5Z"/>
<path fill="#6aff8d" fill-rule="evenodd" d="M1416.5,161.7 1424.5,159.3 1432.5,161.6 1432.5,444.5 1404.5,441.6 1389.3,438 1377.9,434 1364.5,427.5 1355.7,422 1346.7,414 1339.5,406 1334.4,398 1328.7,386 1325.9,374 1325.2,362 1329.4,342 1328.5,334 1323.8,326 1313.8,314 1308.5,306 1305.2,298 1303.4,286 1304.7,274 1309.6,262 1319.2,250 1332.5,239.5 1352.5,228.3 1390,214 1425.5,198 1425.5,194 1416.5,182.2 1413,174 1412.4,170 1413.2,166ZM76.5,211.9 100.5,213.2 128.5,213 148.5,215.6 176.5,221.1 220.5,235.8 243,246 260.5,251.7 284.5,264.6 304.5,272.5 330.1,290 339.6,298 349.1,310 364.5,336.9 368.6,342 372.5,344.7 376.5,345.9 388.5,345.4 392.5,346.1 400.5,350 404,354 408.5,362 411.7,374 411,386 407.9,394 393.5,414 388.5,422.4 384.5,426.3 375.9,430 340.5,435.7 316.5,436.9 264.5,443.7 208.5,456.7 176.5,460.8 144.5,461.1 80.5,455 56.5,454.6 56.5,213.8Z"/>
<path fill="#8dff6a" fill-rule="evenodd" d="M80.5,225.5 112.5,222.5 128.5,222.2 144.5,223.9 176.5,229.5 216.5,243.4 240.5,254.3 256.5,259.8 280.5,273.2 300,282 319.6,298 327.1,306 342.1,334 348.5,341.9 364.5,366 368.3,374 369,378 367.7,386 365.5,390 358.5,398 348.5,406 340.5,410.3 311.3,422 276.5,431.9 256.5,436.2 236.5,442.5 204.5,449.4 172.5,452.9 152.5,453.1 132.5,451.7 80.5,444.8 56.5,444.3 56.5,233.1 68.5,228.6ZM1400.5,233.3 1416.5,231 1432.5,230.4 1432.5,431.9 1408.5,429.2 1386.2,422 1372.5,414 1360.5,402 1356.2,394 1353.2,382 1353.5,374 1356.5,364.5 1360.5,358.3 1364.5,354.6 1389.6,338 1397.5,330 1396.1,326 1388.3,322 1364.5,316 1356.5,312.8 1344.5,306 1336.5,299.3 1332.5,294 1328.5,282 1329,274 1332.5,265 1337.9,258 1348.3,250 1356.5,245.5 1368.5,240.7ZM1419.7,322 1415.4,326 1420.5,328.6 1424.5,329.1 1429.6,326 1429.4,322 1428.5,321.3 1424.5,320.8Z"/>
<path fill="#b4ff43" fill-rule="evenodd" d="M92.5,233.8 112.5,231.5 128.5,231.1 156.5,234.3 174.7,238 212.5,251.6 252.5,268.8 288.9,290 298.1,298 304.3,306 308.5,314 310.8,322 314.2,342 314.5,370 316.2,382 315.5,390 311.8,398 308.5,402 297.8,410 271.7,422 252.5,427.7 232.5,435 200.5,442.2 168.5,445.2 148.5,445 132.5,443.3 84.5,435.3 56.5,434.8 56.5,359.2 88.5,359.6 104.5,355.2 120.5,353.5 128.5,350.7 137.5,346 143.8,342 145.8,338 143,334 132.5,329.3 116.5,327.5 96.5,330.6 80.5,326.7 56.5,316.8 56.5,246.8 76.5,237.6ZM1400.5,253.8 1424.5,251.7 1432.5,252.9 1432.5,286.2 1404.5,290.9 1384.5,291.2 1372.5,288.8 1366.8,286 1362.9,282 1361.1,278 1361.2,274 1362.9,270 1368.5,264.3 1380.9,258ZM1432.5,353.2 1432.5,418.3 1416.5,415.8 1404.5,409.7 1400.2,406 1394.8,398 1391.9,390 1391.4,386 1391.7,382 1394.5,374 1400.9,366 1406,362 1412.5,358.5Z"/>
<path fill="#dbff1c" fill-rule="evenodd" d="M104.5,241.6 128.5,240.4 160.5,244.2 180.2,250 210.5,262 248.5,279.3 265.5,290 274,298 279.7,306 281.6,314 280.5,319.7 276.5,325.8 272.5,328.6 264.5,331.1 256.5,332.2 228.5,333.2 180.5,330.9 168.5,328.7 147.9,322 124.5,319 104.5,315.3 80.5,306.6 68.5,299.3 60.5,292.1 56.5,286.9 56.5,265 64.5,256 76.5,248.6 88.5,244.5ZM172.5,349.5 180.5,349 204.5,352.6 232.5,364.6 255.9,378 265.5,386 269.6,394 269.5,398 267.8,402 260.3,410 232.5,423.9 200.5,433.4 188.5,435.4 164.5,437.5 148.5,437 132.5,434.9 84.5,424.9 56.5,425.1 56.5,369.1 92.5,368.1 124.5,360.6 140.5,355ZM1432.5,373 1432.5,402.4 1427.8,402 1420.7,398 1418.2,394 1417.1,390 1417.2,386 1420.5,378.9 1424.5,375.5Z"/>
<path fill="#feed00" fill-rule="evenodd" d="M120.5,249.8 132.5,250.2 152.5,252.9 170.5,258 196.3,270 238,294 242.6,298 244.5,302.5 242.8,306 232.5,308.6 216.5,307.1 204.5,307.2 168.5,313.1 136.5,311.4 120.5,309 100.5,302.4 84.6,294 76,286 72.5,280 71.4,274 72.5,269.3 77.7,262 84.5,257.4 93.7,254 104.5,251.6ZM156.5,361.8 172.5,361.6 184.5,362.7 200.5,366.2 212.5,370.8 224.5,378 233.4,386 237.4,394 237.7,398 236.6,402 230.4,410 224.8,414 216.7,418 192.5,426.3 168.5,429.5 156.5,429.5 136.5,427.2 84.5,413.2 60.5,413 56.5,412.1 56.5,382.4 60.5,381.4 88.5,379.6 140.5,363.7Z"/>
<path fill="#ffc100" fill-rule="evenodd" d="M108.5,261.9 120.5,259.6 132.5,259.4 144.5,261.2 156.5,264.5 167.2,270 176.7,278 179.9,282 181.5,286 180.8,290 177.6,294 171.3,298 160.5,301.3 152.5,302.5 140.5,302.9 132.5,302.1 112.5,297 99.9,290 92.7,282 91.5,278 91.9,274 94.2,270 99.3,266ZM156.5,370 168.5,369.9 180.5,371 192.5,373.9 202.8,378 208.9,382 215.5,390 216.8,394 216.7,398 215.2,402 212.1,406 207.3,410 192.5,417.2 176.5,421 160.5,421.8 144.5,420.1 132.5,416.9 116.6,410 110.5,406 106.4,402 104.5,398 105,394 107.9,390 118.8,382 140.5,372.8Z"/>
<path fill="#ff9400" fill-rule="evenodd" d="M128.5,269.8 136.7,270 148.3,274 153.5,278 155.7,282 155.4,286 152.5,289.1 148.5,291 136.5,292.4 124.4,290 116.5,286 113.4,282 113,278 115.9,274 120.5,271.7ZM148.5,380.9 156.5,379.1 168.5,378.7 176.5,379.6 184.5,381.7 192.5,385.6 196.5,389.4 198.5,394 198.2,398 196.2,402 191.9,406 184.1,410 176.5,412.3 160.5,413.1 152.5,412.2 144.7,410 136.9,406 132.7,402 130.9,398 131.1,394 133.4,390 137.8,386Z"/>
<use href="#coast"/>
</g>
<rect x="58.5" y="0" width="1371.0" height="675.0" fill="none" stroke="#000" stroke-width="3.2"/>
<text x="131.8" y="-25.3" font-size="53" textLength="1224.5" lengthAdjust="spacingAndGlyphs" xml:space="preserve">Ionosphere  (h=450.0 km), 2024-01-16 00:00 UT</text>
<rect x="58.20" y="718.0" width="62.92" height="68.0" fill="#000096"/>
<rect x="120.52" y="718.0" width="62.92" height="68.0" fill="#0000cd"/>
<rect x="182.84" y="718.0" width="62.92" height="68.0" fill="#0000ff"/>
<rect x="245.15" y="718.0" width="62.92" height="68.0" fill="#0020ff"/>
<rect x="307.47" y="718.0" width="62.92" height="68.0" fill="#0050ff"/>
<rect x="369.79" y="718.0" width="62.92" height="68.0" fill="#0080ff"/>
<rect x="432.11" y="718.0" width="62.92" height="68.0" fill="#00acff"/>
<rect x="494.43" y="718.0" width="62.92" height="68.0" fill="#00dcfe"/>
<rect x="556.75" y="718.0" width="62.92" height="68.0" fill="#1cffdb"/>
<rect x="619.06" y="718.0" width="62.92" height="68.0" fill="#43ffb4"/>
<rect x="681.38" y="718.0" width="62.92" height="68.0" fill="#6aff8d"/>
<rect x="743.70" y="718.0" width="62.92" height="68.0" fill="#8dff6a"/>
<rect x="806.02" y="718.0" width="62.92" height="68.0" fill="#b4ff43"/>
<rect x="868.34" y="718.0" width="62.92" height="68.0" fill="#dbff1c"/>
<rect x="930.65" y="718.0" width="62.92" height="68.0" fill="#feed00"/>
<rect x="992.97" y="718.0" width="62.92" height="68.0" fill="#ffc100"/>
<rect x="1055.29" y="718.0" width="62.92" height="68.0" fill="#ff9400"/>
<rect x="1117.61" y="718.0" width="62.92" height="68.0" fill="#ff6c00"/>
<rect x="1179.93" y="718.0" width="62.92" height="68.0" fill="#ff3f00"/>
<rect x="1242.25" y="718.0" width="62.92" height="68.0" fill="#ff1600"/>
<rect x="1304.56" y="718.0" width="62.92" height="68.0" fill="#cd0000"/>
<rect x="1366.88" y="718.0" width="62.92" height="68.0" fill="#960000"/>
<rect x="58.5" y="718.0" width="1371.0" height="68.0" fill="none" stroke="#000" stroke-width="3.2"/>
<line x1="58.50" y1="786.0" x2="58.50" y2="801.6" stroke="#000" stroke-width="3.2"/>
<text x="45.95" y="848.0" font-size="44.7" textLength="26.5" lengthAdjust="spacingAndGlyphs">0</text>
<line x1="245.45" y1="786.0" x2="245.45" y2="801.6" stroke="#000" stroke-width="3.2"/>
<text x="219.65" y="848.0" font-size="44.7" textLength="53.0" lengthAdjust="spacingAndGlyphs">15</text>
<line x1="432.41" y1="786.0" x2="432.41" y2="801.6" stroke="#000" stroke-width="3.2"/>
<text x="406.61" y="848.0" font-size="44.7" textLength="53.0" lengthAdjust="spacingAndGlyphs">30</text>
<line x1="619.36" y1="786.0" x2="619.36" y2="801.6" stroke="#000" stroke-width="3.2"/>
<text x="593.56" y="848.0" font-size="44.7" textLength="53.0" lengthAdjust="spacingAndGlyphs">45</text>
<line x1="806.32" y1="786.0" x2="806.32" y2="801.6" stroke="#000" stroke-width="3.2"/>
<text x="780.52" y="848.0" font-size="44.7" textLength="53.0" lengthAdjust="spacingAndGlyphs">60</text>
<line x1="993.27" y1="786.0" x2="993.27" y2="801.6" stroke="#000" stroke-width="3.2"/>
<text x="967.47" y="848.0" font-size="44.7" textLength="53.0" lengthAdjust="spacingAndGlyphs">75</text>
<line x1="1180.23" y1="786.0" x2="1180.23" y2="801.6" stroke="#000" stroke-width="3.2"/>
<text x="1154.43" y="848.0" font-size="44.7" textLength="53.0" lengthAdjust="spacingAndGlyphs">90</text>
<line x1="1367.18" y1="786.0" x2="1367.18" y2="801.6" stroke="#000" stroke-width="3.2"/>
<text x="1328.13" y="848.0" font-size="44.7" textLength="79.5" lengthAdjust="spacingAndGlyphs">105</text>
</g>
<g transform="translate(0,2083.5)">
<g clip-path="url(#mc)">
<rect x="58.5" y="0" width="1371.0" height="675.0" fill="#0000a8"/>
<path fill="#0000fa" fill-rule="evenodd" d="M1432.5,-2 1432.5,47.6 1412.5,41.2 1400.5,38.4 1384.5,37.1 1352.5,37.9 1328.5,31.9 1316.5,30.2 1300.5,30.1 1272.5,34 1244.5,31.8 1228.5,31.9 1209.8,34 1172.5,40.3 1152.5,45.1 1144.5,48.4 1140.5,51.3 1136.5,56.9 1135.6,62 1136.5,66.1 1143,74 1154.9,82 1163.4,86 1188.5,91.4 1200.5,96.1 1228.5,109.4 1252.5,117.1 1284.5,122.2 1320.5,124 1331.1,126 1348.5,134.2 1359.1,142 1368.5,150.8 1372.5,153.6 1376.5,155 1384.5,154 1392.5,149.8 1424.5,127 1432.5,122.2 1432.5,678 56.5,678 56.5,124 80.5,131.5 100.5,135.2 116.5,135.9 152.5,134.1 176.5,134 216.5,139.6 224.5,139.2 232.5,137.3 239.5,134 248.5,127.8 252.5,127.9 259.6,134 268.5,140 276.5,143.4 284.5,145 296.5,144.3 320.5,136.1 328.5,135.1 360.5,140.1 400.5,145.1 432.5,142.8 476.5,144.6 488.5,143.7 500.5,140.7 512.5,136.1 546.7,118 550.8,114 555,106 560,82 564.5,73 572.5,65.6 592.7,58 603.7,50 607.3,46 600.6,42 584.5,36.7 560.5,26.2 536.5,23.8 516.5,24.7 500.5,27.9 480.5,34.2 456.5,39.5 440.5,44.1 424.5,50.9 403.7,62 384.5,68.4 368.5,75 360.5,77.2 344.5,79.4 335.7,82 327.7,86 316.5,96.3 312.5,97.2 309.9,94 305.8,86 301.9,82 296.5,78.6 288.5,75.9 280.5,75.2 268.5,77.1 260.5,80.2 251.2,86 244.5,91.9 240.5,93.7 212.5,94 192.5,97.7 184.5,97.7 172.5,94.3 145.3,82 124.5,76.2 104.5,62.4 92.5,57.2 84.5,55.5 76.5,55.1 56.5,58.1 56.5,-2ZM633.2,30 625.6,34 620.2,38 616.7,42 624.5,44.3 636.5,43.4 644.5,40.1 647.1,38 649.3,34 648.7,30 644.5,28.3 640.5,28.3ZM610.2,146 607.5,150 607.5,154 610.4,162 615.6,170 632.1,186 638.6,190 644.5,191.4 664.5,191.8 672.5,190.9 680.5,188.5 690.8,182 699.2,174 705,166 705.9,162 704.5,156.5 700.5,151.6 696.5,149 688.5,146.6 664.5,144.8 640.5,148.3 620.5,144.3 616.5,144.2Z"/>
<path fill="#0034ff" fill-rule="evenodd" d="M232.5,33.4 240.5,31.8 247,34 249.9,38 250.1,42 248.4,46 244.5,49.6 240.5,51.2 236.5,51.6 230.4,50 226.4,46 225.5,42 226.9,38ZM740.5,93.7 748.5,92 756.5,92.2 768.5,95.8 777.4,102 792.7,118 801.8,126 815.6,134 824.5,136.4 864.5,134.5 904.5,137.8 944.5,131.7 984.5,132.3 1020.5,122.5 1032.5,120.3 1044.5,119.5 1060.5,120.4 1088.5,125 1108.5,122.6 1132.5,122.9 1152.5,125.1 1176.5,129.1 1188.5,132.3 1200.5,137.3 1215.5,146 1225.8,154 1246.4,174 1248.5,194 1252.5,201.9 1256.5,204.3 1264.5,206.5 1296.5,209.7 1324.5,208.5 1360.5,214.3 1384.5,215.2 1396.5,214.7 1408.5,211.7 1412.4,210 1416.5,206.7 1422.4,198 1428.4,186 1432.5,181.4 1432.5,678 56.5,678 56.5,159.3 84.5,162 164.5,164.4 240.5,162.1 284.5,167.4 296.5,166.8 320.5,163.4 368.5,164.4 388.5,163.4 400.5,161.7 480.5,171.2 528.5,171 540.5,172.6 556.5,176.8 576.5,184 609.1,198 624.5,203.4 660.5,211.4 668.5,212.4 676.5,212.1 688.5,209.1 700.5,202.4 710.6,194 728.5,176.4 741.7,166 744.2,162 745.4,154 742.9,138 734.4,114 732.9,106 733.5,102 735.4,98ZM880.7,494 838.4,506 828.5,509.7 792.5,532.5 748.5,553 728.5,573.9 721.9,578 718,582 716,586 714.4,594 714.5,598 716.5,603.4 720.5,607.2 724.5,608.8 732.5,609.8 740.5,608.2 742.9,606 744.4,602 748.5,601 768,602 796.5,605.7 808.5,606 820.5,604.4 860.5,594.4 870.1,590 883.6,582 911.8,562 942.2,534 948.5,526 950.6,522 952.7,514 952.3,510 948.5,503.6 940.4,498 928.5,494.5 900.5,492.1 892.5,492Z"/>
<path fill="#0080ff" fill-rule="evenodd" d="M1124.5,153.1 1140.5,154 1168.5,160.8 1180.5,162.5 1188.5,167.1 1196.5,174.2 1202.1,182 1205.4,190 1215,222 1220.5,233.3 1228.5,241.5 1236.5,245 1244.5,246.1 1252.5,245.8 1284.5,238.8 1332.5,231.2 1396.5,232.1 1424.5,233.9 1432.5,232.9 1432.5,471.1 1424.5,471.1 1404.5,475.9 1380.5,474.5 1364.5,472.2 1356.5,472.7 1344.5,476 1332.5,483 1321.8,494 1317.4,502 1314.5,514 1315.4,522 1321.6,534 1328.6,542 1341.8,554 1356.5,562.9 1384.5,573.9 1400.9,582 1407.6,586 1424.5,600 1432.5,605.2 1432.5,678 852.7,678 854.1,674 858.9,666 869.3,654 913.2,610 936.5,592 968.5,560.2 988.5,544.9 1024.5,524.9 1028.7,522 1035.8,514 1039.1,506 1039.4,502 1037.6,494 1033.2,486 1028.5,480.9 1020.5,475.1 1012.5,471.4 1004.5,469.4 948.5,463.4 916.5,462.3 896.5,463.1 884.5,464.7 872.5,467.8 848.5,476.2 824.5,486.3 788.5,495.2 776.5,496.1 744.5,494.5 728.5,492.8 712.5,493.3 704.5,495.4 680.5,505.8 668.5,512.8 660.5,518.7 652.5,522.8 631,530 596.5,543.8 524.5,556.7 508.5,558.2 488.5,558.6 432.5,556.7 388.5,552.1 372.5,549 348.5,542.1 312.5,535 272.5,529.9 252.5,530 208.5,534 192.5,533.4 184.5,531.3 176.5,527.8 168.5,522.8 163,518 148.5,502.2 142.9,486 138.3,478 131,470 120.5,463.5 104.5,458.4 92.5,457.4 84.5,458.4 72.5,461.5 56.5,467.7 56.5,199.2 62,198 88.5,188.1 100.5,185.3 112.5,184 172.5,187.1 228.5,183.3 244.5,184.8 276.5,191.2 292.5,192.2 352.5,187.8 400.5,182.1 416.5,183 512.5,191.7 540.5,195.9 568.5,203.1 608.5,218.1 636.5,225.2 660.5,234 668.5,235.5 676.5,235.6 684.5,234.4 692.5,231.9 704.5,225.2 716.5,215.1 736.5,193.1 744.5,185.9 768.5,177.4 780.5,174.4 792.5,173 824.5,172.5 852.5,169.8 932.5,165.7 972.5,161.1 1016.5,160.3ZM1173.2,494 1150.1,502 1143,506 1136.5,511.4 1132,518 1131.3,522 1132.5,526.7 1138.1,534 1150.5,542 1164.5,547.2 1180.5,550.3 1200.5,550.3 1216.5,547.6 1233.5,542 1247,534 1251.1,530 1253.1,526 1253.2,522 1251.3,518 1247.9,514 1237.4,506 1221.9,498 1212.5,495.2 1200.5,493.2 1184.5,492.4Z"/>
<path fill="#00c8ff" fill-rule="evenodd" d="M1088.5,182.8 1128.5,186.2 1144.5,190.7 1156.5,197.1 1160.9,202 1165.2,210 1177.2,254 1184.2,270 1188.5,276.4 1193.9,282 1200.5,286.2 1208.5,288.6 1220.5,287.7 1232.5,283.6 1262.1,266 1280.5,257.8 1328.5,246.1 1340.5,244.8 1356.5,245.6 1388.5,243.9 1432.5,244.1 1432.5,444.5 1416.5,442.8 1396.5,436.5 1388.5,431.4 1382.6,426 1373.3,414 1365.5,406 1360.5,397.1 1356.5,392.2 1336.5,378.9 1324.5,376.1 1312.5,375.1 1300.5,378.3 1294.9,382 1287.6,390 1281.7,402 1276.5,428.9 1273.6,438 1270.9,442 1264.5,447.9 1252.5,453.7 1240.5,455.7 1228.5,455 1212.5,451.2 1196.5,443.6 1192.5,440.2 1188.4,434 1186.1,426 1184.9,414 1181.6,402 1183.3,382 1182.2,374 1180.5,370.3 1176.5,366.6 1172.5,364.5 1164.8,362 1160.5,361.7 1152.5,363.7 1144.5,369.4 1141.7,374 1139.3,382 1139.8,390 1150.4,430 1150.3,434 1148.5,439.5 1143.9,446 1136.5,451.8 1124.5,458.2 1108.5,464.1 1096.5,465.9 1088.5,464.7 1052.5,442.9 1040.5,438.3 1028.5,436 1012.5,435.9 992.5,439.7 976.5,440.6 928.5,439.5 904.5,437.5 892.5,437.7 872.5,441.4 828.5,456.1 808.5,460.8 788.5,461.6 744.5,458.1 712.5,461.5 704.5,464.3 688.5,473.3 668.9,482 652.5,492.5 644.5,495.4 624.5,497.9 600.5,503.9 584.5,506.5 568.5,507.8 524.5,508.5 488.5,516.2 476.5,515 456.5,508.8 444.5,506.7 432.5,507.5 404.5,514.1 396.5,514.1 388.5,512.5 366.5,506 344.5,497.3 320.5,490.9 292.5,478.8 272.5,472.4 252.5,469.6 208.5,469.8 196.5,467.4 168.5,456 149.5,446 140.5,442.2 100.5,431.6 92.5,430.7 84.5,431.5 74.5,434 56.5,440.5 56.5,220.8 72.5,217.2 104.5,206 112.5,204.6 120.5,204.7 160.5,209.8 180.5,210.9 196.5,210.5 228.5,207.4 237.5,210 256.5,219.7 264.5,222.8 276.5,225.4 288.5,226 300.5,225.2 316.5,222.5 384.5,206 400.5,203 428.5,202.6 486.3,206 532.2,214 568.5,224 590.1,234 628.5,256 648.5,264 668.5,267.3 704.5,268.2 712.5,267.5 716.5,265.4 727.7,246 740.5,229.5 752.5,218.6 764.5,213 776.5,211.2 820.5,210.1 868.5,204.8 912.5,197 944.5,194 980.5,186.3 988.5,186.7 1020.5,193.8 1040.5,195.3 1060.5,192.8 1072.5,189.4ZM775.5,270 744.5,273.6 728.5,273.7 724.5,274.5 720.5,278.8 719.2,286 719.3,294 721.4,306 724.3,314 728.5,322.2 740.5,339.3 744.5,343.3 752.5,348.1 760.5,348.7 808.5,339.2 812.5,337.4 815.3,334 817.1,330 820.6,302 819.3,294 816.5,289 808.5,280.4 800.5,275.3 788.5,271.2ZM1044.5,565.7 1064.5,564.6 1076.5,565.9 1089.1,570 1144.5,584.3 1164.5,592.1 1207,606 1216.5,611 1219.9,614 1221,618 1218.8,622 1212.5,625.4 1176.5,632 1152.5,638.9 1140.5,639.9 1124.5,638.5 1092.5,638.2 1048.5,634.3 1024.5,628.3 996.9,618 992.5,614.5 990.9,610 991.6,606 992.5,605.1 1000.5,604.3 1004.5,602.4 1007.6,598 1008.6,594 1008,590 1002.4,582 1006.4,578 1024.5,569.1Z"/>
<path fill="#23ffd4" fill-rule="evenodd" d="M420.5,221.9 444.5,220.3 476.5,221.6 496.5,224.6 524.5,231.7 552.5,241.7 568.5,250.1 573.2,254 576.3,258 588.5,283.5 592.5,287.7 600.5,292.1 608.5,294.2 624.5,296 672.5,297.4 680.5,298.7 688.5,301.4 700.5,309.2 708.5,317.3 724.5,336.5 734.3,350 744.5,371.5 748.5,374.4 752.5,375.2 772.5,376.1 784.5,374.8 796.5,372.1 820.5,363.1 828.5,358.3 840.5,348.7 860.5,334.9 872.5,318.6 876.5,315.2 884.5,310.8 896.5,307.5 904.5,307.1 916.5,308.9 956.5,321.5 988.5,321.3 996.5,322.8 1008.5,327.3 1016.5,329 1032.5,328 1060.5,320.2 1072.5,315.6 1092.5,304.1 1100.5,301.7 1104.7,302 1108.5,303.5 1111.5,306 1113.9,310 1114.3,318 1113,322 1108.5,329 1095.1,342 1092.6,346 1087.6,362 1084.5,367.3 1080.5,371.4 1069.5,378 1032.5,392.5 1016.5,400.5 1000.5,410 992.5,412.9 972.5,415.8 928.5,414.6 916.5,413.2 892.5,407.1 880.5,407.3 868.5,410.3 844.5,419.3 816.5,426.9 808.5,428.1 780.5,428.8 768.5,431.3 760.5,434.5 744.5,443.3 704.5,452.5 684.5,461.4 640.5,475.9 596.5,481.8 576.5,482.3 544.5,480.6 520.5,477.4 492.5,478.3 464.5,476.1 440.5,470.8 412.5,468.2 405.6,466 403.3,462 400.5,459.6 388.5,460.3 380.5,459.2 332.5,446 320.5,443.8 272.5,440.1 236.5,444.2 196.5,444 184.5,441.9 176.5,439.5 148.5,426.5 128.5,423.4 100.5,414.7 92.5,413.4 80.5,413.3 56.5,416.9 56.5,239.6 104.5,228.9 116.5,228 132.5,229.5 172.5,236.1 192.5,241.3 200.5,244.8 208.5,249.7 224.5,262.6 232.5,267.8 240.5,270.4 248.5,270.6 264.5,267.8 308.5,257.3 380.5,231.5 404.5,224.8ZM1432.5,252.6 1432.5,423.7 1428.5,422.9 1420.5,425 1412.5,424.9 1404.5,422.7 1396.5,419.2 1392.5,416.3 1376.5,400.3 1369.4,390 1364.5,384.6 1344.5,369.9 1332.5,364.2 1316.5,359.9 1300.5,357.6 1292.5,358.3 1260.5,365.4 1256.5,365.1 1252.5,363.5 1246.5,358 1242.3,350 1240.5,342 1242.8,330 1245.4,322 1250.3,310 1257.3,298 1267.9,286 1276.7,278 1283.5,274 1296.5,268.7 1332.5,258.1 1344.5,256.5 1360.5,256.4Z"/>
<path fill="#5dff9a" fill-rule="evenodd" d="M432.5,237.9 456.5,236.4 480.5,238.8 508.5,245.7 528.5,254.4 539.3,262 546.6,270 551.3,278 564.5,309.3 572.5,320.3 576.5,324.2 580.5,326.4 608.5,326.5 652.5,322.8 676.5,319.8 688.5,322.1 696.5,325.9 712.5,338.5 724.5,351.8 728.1,358 734.3,374 741.9,390 743.9,398 743.2,406 740,414 733.2,426 726.7,434 716.5,440.2 700.5,443.1 680.5,451.7 640.5,458.7 584.5,464.8 560.5,462.9 544.5,463.8 516.5,459.9 480.5,461.3 464.5,459.8 440.5,455.8 396.2,442 364.5,434.7 340.5,427.4 328.5,424.7 280.5,421.4 264.5,422.9 232.5,428.5 216.5,429.3 200.5,428.7 180.5,425 152.5,414.4 132.5,410.5 112.5,403.2 100.5,399.8 80.5,398 56.5,398.9 56.5,256.2 92.5,249.9 108.5,248.6 124.5,249.6 164.5,256.2 180.5,260.8 192.5,266.5 220.5,287 228.5,291.7 236.5,293.5 248.5,293.6 274.3,290 316.5,280.9 332.5,275.2 364.5,260.4 384.5,252.3 416.5,241.4ZM1432.5,261.6 1432.5,410.4 1416.5,408.3 1404.5,403.6 1390.9,394 1370.1,374 1348.5,358.1 1340.9,354 1328.5,349 1312.5,346.6 1288.5,338.6 1280.5,337 1277.2,334 1276.4,330 1276.8,326 1279.5,318 1293.4,294 1301.7,286 1316.8,278 1328.5,273.3 1344.5,269.5 1384.5,264.7Z"/>
<path fill="#9aff5d" fill-rule="evenodd" d="M432.5,253.5 444.5,251.7 456.5,251.3 468.5,252.2 480.5,254.4 505.2,262 516.5,268.1 524.1,274 531.3,282 538.4,294 543.5,306 552.5,333.1 559,346 559.6,354 567.6,370 572.5,374.9 576.5,376 584.5,374.9 600.5,367.7 604.5,364.8 616.5,350.4 620.5,347.8 628.5,344.6 640.5,342.9 656.5,342.6 676.5,338 684.5,338.2 692.5,340.9 700.5,345.1 712.5,353.5 716.9,358 720.5,365.2 726.5,382 726.7,390 724.1,398 714.5,414 706.2,422 680.5,435.3 656.5,441.6 588.5,449 568.5,445.7 548.5,448.7 532.5,445.8 512.5,444.9 480.5,447.9 456.5,445.6 440.5,442.5 400.5,426.9 376.5,421.3 340.5,410 324.5,406.7 300.5,404.2 284.5,404.1 264.5,406.7 228.5,414.2 200.5,415.3 180.5,411.6 116.5,389.7 104.5,386.5 84.5,384.1 56.5,384 56.5,270.7 84.5,267 104.5,265.8 124.5,267 156.5,271.7 172.5,275.6 184.5,280.3 216.5,299.5 228.5,304.6 248.5,308.4 268.5,309 316.5,304 328.5,301.2 340.5,296 371.4,278 388.5,269.3 416.5,258ZM1432.5,271.4 1432.5,395.2 1420.5,392.4 1412.5,388.9 1400.5,381.1 1380.5,364.6 1353.6,346 1336.5,339.7 1320.5,336.4 1316.2,334 1312.5,330 1310.6,326 1310.3,318 1314,310 1328.5,296.2 1337,290 1345.8,286 1376.5,277.4Z"/>
<path fill="#d4ff23" fill-rule="evenodd" d="M444.5,265.6 456.5,265 472.5,266.6 484.5,269.4 497,274 508.5,280.6 516.5,287.6 524.5,298 528.7,306 533.1,318 538.1,342 545,366 545.2,378 541.3,394 535.8,406 524.5,421.3 516.5,427.2 492.5,433.2 480.5,434.9 464.5,434.6 448.5,432.2 436.5,428.3 408.5,415.5 396.5,411.4 376.5,406.3 336.5,388.9 316.5,384.1 300.5,382.8 284.5,383.8 264.5,388.5 228.5,399.6 212.5,402.2 200.5,402.6 188.5,401.1 176.5,398.3 145,386 124.5,376.9 112.5,373.2 96.5,370.6 56.5,368 56.5,285.4 80.5,282.7 100.5,282.2 124.5,283.5 152.5,286.6 168.5,289.8 180.5,293.7 216.5,311.9 260.5,326.7 276.5,328.2 308.5,325 324.5,326.7 332.5,325.4 344.5,319.5 380.5,292.3 400.5,280 424.5,269.9ZM1424.5,285.9 1432.5,285.7 1432.5,377.9 1424.5,375.3 1416.5,371 1384.5,347.8 1364.5,337.4 1355.9,330 1352.4,326 1350.6,322 1350.9,318 1353.1,314 1356.5,310.8 1372.5,299.3 1380.5,294.9 1396.5,290.3ZM628.5,361 636.5,359.1 644.5,358.5 656.5,359 668.5,360.7 672.9,362 680,366 688,374 689.8,378 689.9,382 685.6,402 681.7,410 674.6,418 664.5,424.4 656.5,427.4 644.5,429.5 620.5,430.6 612.5,429.6 604.5,427 597.2,422 593.7,418 589.1,410 587.5,402 588.1,398 591.8,390 596.5,384.7 608.5,377.8 613.4,374 620.6,366Z"/>
<path fill="#ffdb00" fill-rule="evenodd" d="M456.5,277.9 468.5,278.9 480.5,281.5 492.1,286 500.5,291 508.5,297.8 515,306 520.5,316.1 523.9,326 530.5,366 530.2,378 528.7,386 524.2,398 516.5,410.6 508.5,416.6 496.5,421 476.5,424.1 464.5,424.4 452.5,422.5 440.5,419 400.5,397.4 396.5,395.6 388.5,394.5 380.5,390.1 359.3,370 353.8,362 352.4,358 352.2,354 353.3,350 361.2,338 381.2,314 398.5,298 412.5,289.2 428.5,282.4 440.5,279.4ZM80.5,300 144.5,302.9 164.5,304.9 180.5,308.6 204.5,320.6 228.5,329.4 235.8,334 242.5,342 249,354 249.7,362 248.5,366 242.9,374 238.1,378 230.7,382 220.5,386 212.5,387.8 196.5,388.6 180.5,386.7 172.5,384.3 148.5,374.3 128.5,361.4 112.5,355.2 100.5,353.5 68.5,352.5 56.5,350.9 56.5,302.2ZM1420.5,305.9 1432.5,304.5 1432.5,353 1424.5,349.9 1411.5,342 1404.5,335.7 1401.6,330 1401.2,326 1402.3,322 1404.9,318 1412.4,310ZM636.5,380.8 644.5,378.4 648.5,378.2 652.5,378.8 658.4,382 661.1,386 662.2,394 660.5,399.9 655.9,406 648.5,409.9 640.5,410.6 632.5,408.1 625.3,402 623.5,398 623.6,394 625.3,390 628.7,386Z"/>
<path fill="#ff9400" fill-rule="evenodd" d="M436.5,293.5 448.5,291.2 460.5,290.8 472.5,292.3 480.5,294.6 492.5,300.4 499.8,306 506.8,314 511.6,322 516,334 517.5,342 518.4,370 517.9,378 514.4,390 509.9,398 504.5,403.9 496.5,409 488.5,411.9 464.5,414.7 456.5,413.9 444.5,410.3 434.8,406 423,398 408.5,385.9 396.8,378 390,370 386.6,362 385.8,350 389.4,338 396.8,322 402.5,314 412.5,305 424.5,297.9ZM160.5,329.4 172.5,329.3 192.5,336.9 201.3,342 211.3,350 213.3,354 213,358 206.1,366 200.5,369.5 188.5,370.1 180.5,371.6 176.5,371.7 172.5,370 164.5,362.4 152.5,360.8 150,358 148,350 145.2,346 140,342 138,338 139.1,334 144.5,331Z"/>
<path fill="#ff5200" fill-rule="evenodd" d="M444.5,305.5 456.5,304 464.5,304.3 472.5,305.7 480.5,308.3 488.5,312.5 495.2,318 500.5,324.6 503.5,330 506.2,338 507.5,350 506.6,370 505,378 500.7,386 497.3,390 492.4,394 484.5,398.3 476.5,400.7 464.5,401.6 452.5,400.1 440.5,395.8 432.2,390 420.1,378 413.6,370 409.4,362 407.3,354 406.4,342 407.7,334 411.7,326 416.5,320.1 424.5,313.6 432.5,309.3Z"/>
<path fill="#fa0f00" fill-rule="evenodd" d="M444.5,321.8 456.5,319.5 464.5,319.6 472.5,320.9 484.5,326.2 488.5,329.7 491.5,334 493.1,338 494.4,346 493.8,354 491.1,366 486.8,374 483,378 476.5,382.5 468.5,385.1 464.5,385.2 456.5,382.9 440.5,374 432.8,366 428.5,358.8 424.4,346 424.9,338 427,334 432.5,328.3Z"/>
<path fill="#a80000" fill-rule="evenodd" d="M460.5,341.6 464.7,342 468.1,346 469.6,350 469.4,354 464.5,359.5 460.5,359.6 458.8,358 454.7,350 455.1,346Z"/>
<use href="#coast"/>
</g>
<rect x="58.5" y="0" width="1371.0" height="675.0" fill="none" stroke="#000" stroke-width="3.2"/>
<text x="87.5" y="-25.3" font-size="53" textLength="1312.9" lengthAdjust="spacingAndGlyphs" xml:space="preserve">Plasmasphere (h=1500.0 km), 2024-01-16 00:00 UT</text>
<rect x="58.20" y="718.0" width="98.53" height="68.0" fill="#0000a8"/>
<rect x="156.13" y="718.0" width="98.53" height="68.0" fill="#0000fa"/>
<rect x="254.06" y="718.0" width="98.53" height="68.0" fill="#0034ff"/>
<rect x="351.99" y="718.0" width="98.53" height="68.0" fill="#0080ff"/>
<rect x="449.91" y="718.0" width="98.53" height="68.0" fill="#00c8ff"/>
<rect x="547.84" y="718.0" width="98.53" height="68.0" fill="#23ffd4"/>
<rect x="645.77" y="718.0" width="98.53" height="68.0" fill="#5dff9a"/>
<rect x="743.70" y="718.0" width="98.53" height="68.0" fill="#9aff5d"/>
<rect x="841.63" y="718.0" width="98.53" height="68.0" fill="#d4ff23"/>
<rect x="939.56" y="718.0" width="98.53" height="68.0" fill="#ffdb00"/>
<rect x="1037.49" y="718.0" width="98.53" height="68.0" fill="#ff9400"/>
<rect x="1135.41" y="718.0" width="98.53" height="68.0" fill="#ff5200"/>
<rect x="1233.34" y="718.0" width="98.53" height="68.0" fill="#fa0f00"/>
<rect x="1331.27" y="718.0" width="98.53" height="68.0" fill="#a80000"/>
<rect x="58.5" y="718.0" width="1371.0" height="68.0" fill="none" stroke="#000" stroke-width="3.2"/>
<line x1="58.50" y1="786.0" x2="58.50" y2="801.6" stroke="#000" stroke-width="3.2"/>
<text x="45.95" y="848.0" font-size="44.7" textLength="26.5" lengthAdjust="spacingAndGlyphs">0</text>
<line x1="254.36" y1="786.0" x2="254.36" y2="801.6" stroke="#000" stroke-width="3.2"/>
<text x="241.81" y="848.0" font-size="44.7" textLength="26.5" lengthAdjust="spacingAndGlyphs">5</text>
<line x1="450.21" y1="786.0" x2="450.21" y2="801.6" stroke="#000" stroke-width="3.2"/>
<text x="424.41" y="848.0" font-size="44.7" textLength="53.0" lengthAdjust="spacingAndGlyphs">10</text>
<line x1="646.07" y1="786.0" x2="646.07" y2="801.6" stroke="#000" stroke-width="3.2"/>
<text x="620.27" y="848.0" font-size="44.7" textLength="53.0" lengthAdjust="spacingAndGlyphs">15</text>
<line x1="841.93" y1="786.0" x2="841.93" y2="801.6" stroke="#000" stroke-width="3.2"/>
<text x="816.13" y="848.0" font-size="44.7" textLength="53.0" lengthAdjust="spacingAndGlyphs">20</text>
<line x1="1037.79" y1="786.0" x2="1037.79" y2="801.6" stroke="#000" stroke-width="3.2"/>
<text x="1011.99" y="848.0" font-size="44.7" textLength="53.0" lengthAdjust="spacingAndGlyphs">25</text>
<line x1="1233.64" y1="786.0" x2="1233.64" y2="801.6" stroke="#000" stroke-width="3.2"/>
<text x="1207.84" y="848.0" font-size="44.7" textLength="53.0" lengthAdjust="spacingAndGlyphs">30</text>
<line x1="1429.50" y1="786.0" x2="1429.50" y2="801.6" stroke="#000" stroke-width="3.2"/>
<text x="1403.70" y="848.0" font-size="44.7" textLength="53.0" lengthAdjust="spacingAndGlyphs">35</text>
</g>
</svg></body></html>
